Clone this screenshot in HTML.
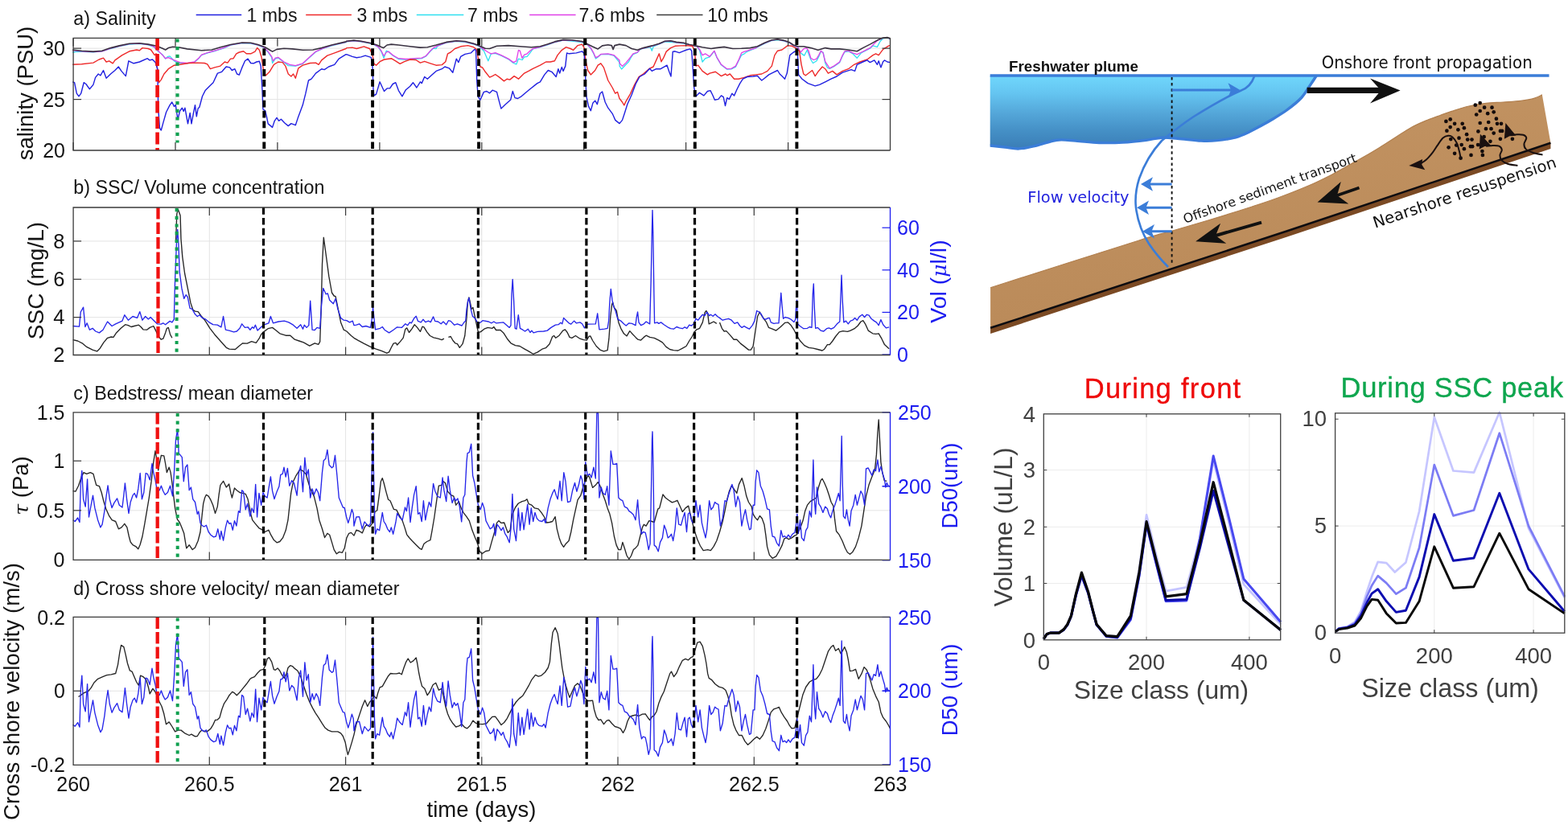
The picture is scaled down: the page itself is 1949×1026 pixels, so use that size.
<!DOCTYPE html>
<html lang="en"><head><meta charset="utf-8"><title>Figure</title>
<style>
html,body{margin:0;padding:0;background:#fff;}
svg{display:block;}
</style></head><body>
<svg width="1949" height="1026" viewBox="0 0 1949 1026" font-family='"Liberation Sans", sans-serif'>
<rect width="1949" height="1026" fill="#ffffff"/>
<rect x="91.1" y="47.4" width="1015.4" height="139.6" fill="#fff" stroke="none"/>
<line x1="218.0" y1="47.4" x2="218.0" y2="187.0" stroke="#e4e4e4" stroke-width="1"/>
<line x1="344.9" y1="47.4" x2="344.9" y2="187.0" stroke="#e4e4e4" stroke-width="1"/>
<line x1="471.9" y1="47.4" x2="471.9" y2="187.0" stroke="#e4e4e4" stroke-width="1"/>
<line x1="598.8" y1="47.4" x2="598.8" y2="187.0" stroke="#e4e4e4" stroke-width="1"/>
<line x1="725.7" y1="47.4" x2="725.7" y2="187.0" stroke="#e4e4e4" stroke-width="1"/>
<line x1="852.6" y1="47.4" x2="852.6" y2="187.0" stroke="#e4e4e4" stroke-width="1"/>
<line x1="979.6" y1="47.4" x2="979.6" y2="187.0" stroke="#e4e4e4" stroke-width="1"/>
<line x1="91.1" y1="123.6" x2="1106.5" y2="123.6" stroke="#e4e4e4" stroke-width="1"/>
<line x1="91.1" y1="60.1" x2="1106.5" y2="60.1" stroke="#e4e4e4" stroke-width="1"/>
<polyline points="90.2,65.0 96.2,64.1 115.9,64.8 126.7,63.9 137.5,60.5 148.2,57.7 160.8,55.0 173.4,54.4 184.2,55.9 191.3,58.4 196.7,64.1 202.1,68.1 205.7,73.1 208.4,70.4 211.1,69.9 216.5,75.8 221.9,78.5 232.6,78.8 241.6,77.4 247.0,72.7 250.6,68.4 259.6,65.4 268.6,63.0 277.5,60.2 281.1,58.7 286.5,56.2 300.9,53.7 311.7,54.1 320.6,56.2 327.8,59.1 333.2,64.8 337.7,71.3 338.6,78.5 342.2,73.1 345.8,72.0 353.0,77.6 358.3,81.7 367.3,82.1 376.3,79.4 385.3,70.9 392.5,64.5 401.4,60.5 412.2,56.8 430.0,52.6 430.8,51.9 439.8,50.8 448.7,51.9 463.1,54.6 470.3,58.7 473.9,64.1 477.1,72.2 480.2,63.2 482.9,64.5 488.2,69.0 495.4,73.5 504.4,74.0 515.2,73.3 524.2,72.7 529.5,69.9 534.9,63.8 538.5,60.2 542.1,60.5 543.9,57.3 554.7,53.2 567.3,51.4 578.0,52.3 588.8,55.0 595.1,57.3 601.4,63.2 606.8,75.8 610.4,66.8 615.7,66.3 622.9,69.1 631.9,73.6 638.2,78.5 641.8,79.9 644.5,73.1 649.0,74.5 651.7,70.9 655.2,70.4 658.8,65.9 662.4,60.9 671.4,58.7 680.4,55.9 689.4,52.6 700.1,50.1 710.9,51.2 723.5,52.6 728.9,54.6 734.3,60.2 737.9,66.8 740.5,73.1 743.2,70.9 746.8,67.7 755.8,67.4 763.0,69.1 770.0,77.6 770.1,82.1 772.6,86.0 778.0,80.3 781.5,76.7 784.2,71.7 786.9,67.7 792.3,65.4 795.9,61.2 799.5,60.3 808.5,58.7 810.3,63.2 812.1,57.8 819.3,55.0 826.4,51.9 833.6,52.4 840.8,53.2 849.8,54.1 857.0,56.2 866.0,57.7 869.5,62.3 873.1,77.0 876.7,72.7 882.1,70.9 885.7,66.3 887.9,63.8 891.1,71.7 896.5,80.8 903.7,86.2 909.1,85.8 914.4,83.2 918.0,75.8 921.6,68.6 925.2,66.8 928.8,64.1 934.2,61.8 939.6,60.0 941.4,58.6 950.4,54.1 959.3,50.5 966.5,49.6 973.7,50.8 980.9,53.2 986.3,56.8 991.7,59.1 995.2,65.9 999.7,69.1 1003.3,62.3 1007.8,74.0 1010.5,78.5 1015.0,75.8 1017.7,70.4 1020.4,64.1 1023.1,65.0 1025.8,78.5 1028.5,84.2 1031.2,85.3 1036.6,82.6 1043.7,77.6 1047.3,69.5 1050.0,64.5 1054.5,63.8 1059.9,66.8 1065.3,72.2 1070.7,65.6 1076.1,62.9 1081.4,60.2 1085.0,56.9 1090.4,58.4 1094.0,51.5 1097.6,47.8 1103.0,47.2 1106.6,48.7" fill="none" stroke="#30e0f0" stroke-width="1.3" stroke-linejoin="round" />
<polyline points="90.2,62.7 101.5,63.8 115.9,64.7 126.7,63.8 137.5,60.2 148.2,57.3 160.8,54.6 173.4,54.1 184.2,55.5 191.3,57.8 196.7,63.2 202.1,68.6 205.7,72.7 209.3,71.7 216.5,74.9 223.7,77.6 232.6,78.5 241.6,77.0 247.0,72.2 250.6,68.1 259.6,65.0 268.6,62.7 277.5,59.6 286.5,55.9 300.9,53.3 311.7,53.7 320.6,55.9 327.8,58.7 333.2,64.1 337.7,70.4 339.5,75.8 342.2,72.2 345.8,71.3 353.0,77.0 360.1,80.3 367.3,81.7 376.3,78.8 385.3,70.4 392.5,64.1 401.4,60.2 412.2,56.4 430.0,52.3 430.8,51.5 439.8,50.5 448.7,51.5 463.1,54.2 470.3,58.4 473.9,63.2 477.1,69.5 480.2,65.0 482.9,64.1 488.2,68.6 495.4,72.7 504.4,73.5 515.2,72.7 524.2,72.2 529.5,69.5 534.9,63.2 538.5,59.6 543.9,56.9 554.7,52.8 567.3,51.0 578.0,51.9 588.8,54.6 595.1,56.9 601.4,61.4 606.8,65.0 610.4,66.8 615.7,65.6 622.9,68.6 631.9,73.1 638.2,77.6 641.8,75.8 644.5,62.3 646.3,63.2 649.0,72.2 651.7,68.1 655.2,66.8 658.8,63.2 662.4,60.5 671.4,58.4 680.4,55.5 689.4,52.3 700.1,49.8 710.9,50.1 723.5,51.9 728.9,54.2 734.3,59.6 737.9,65.9 740.5,71.7 743.2,70.4 746.8,67.4 755.8,66.8 763.0,68.6 770.0,74.9 770.1,78.5 773.5,82.4 778.0,78.1 781.5,74.0 784.2,70.4 786.9,66.8 792.3,65.0 795.9,60.9 799.5,60.0 810.3,57.3 819.3,54.6 826.4,51.5 833.6,51.0 840.8,52.8 849.8,53.7 857.0,55.9 866.0,57.3 869.5,61.4 873.1,68.6 876.7,66.8 882.1,70.4 885.7,65.9 887.9,63.2 891.1,71.3 896.5,80.3 903.7,85.7 909.1,85.3 914.4,82.1 918.0,74.9 921.6,65.9 925.2,64.1 928.8,63.2 934.2,61.4 939.6,59.6 941.4,58.2 950.4,53.7 959.3,50.1 966.5,49.2 973.7,50.5 980.9,52.8 986.3,56.4 991.7,58.7 995.2,65.0 998.8,60.9 1002.4,59.6 1005.1,63.2 1007.8,72.2 1011.4,74.5 1015.0,73.1 1017.7,68.6 1020.4,63.2 1023.1,65.9 1025.8,76.7 1031.2,84.8 1036.6,82.1 1043.7,77.0 1047.3,68.6 1050.0,63.8 1054.5,63.2 1059.9,65.9 1065.3,67.7 1070.7,65.0 1076.1,62.3 1081.4,59.6 1085.0,56.0 1090.4,50.5 1097.6,47.4 1103.0,46.9 1106.6,48.3" fill="none" stroke="#e040e8" stroke-width="1.3" stroke-linejoin="round" />
<polyline points="90.2,62.0 101.5,63.2 115.9,64.1 126.7,63.2 137.5,59.6 148.2,56.9 160.8,54.2 173.4,53.7 184.2,55.1 194.9,57.3 202.1,60.2 205.7,62.0 209.3,59.6 214.7,58.2 221.9,58.7 232.6,60.9 250.6,62.7 263.2,62.0 273.9,58.7 286.5,55.5 300.9,53.0 311.7,53.3 320.6,55.5 329.6,58.7 335.0,62.0 338.6,64.1 344.0,61.4 353.0,60.2 363.7,60.9 376.3,62.3 388.9,62.0 399.7,59.6 412.2,56.0 430.0,51.9 430.8,51.2 439.8,50.1 448.7,51.2 461.3,53.7 468.5,56.0 473.9,58.4 476.6,59.6 481.1,56.0 486.4,55.1 495.4,56.0 509.8,57.8 522.4,59.1 531.3,58.7 542.1,56.0 554.7,52.4 567.3,50.7 578.0,51.5 588.8,54.2 596.0,56.9 603.2,60.2 608.6,60.5 617.5,57.3 631.9,56.6 646.3,57.8 660.6,58.7 671.4,57.8 680.4,55.1 689.4,51.9 700.1,49.4 710.9,49.8 723.5,51.5 728.9,54.2 736.1,57.8 743.2,60.9 748.6,56.9 755.8,55.7 760.3,56.6 762.1,61.4 763.9,56.6 770.0,55.1 778.0,56.6 785.1,60.5 792.3,62.3 799.5,59.6 810.3,56.9 819.3,54.2 826.4,51.2 833.6,50.7 840.8,52.4 849.8,53.3 857.0,55.5 864.2,56.9 873.1,58.7 883.9,60.5 889.3,59.6 900.1,58.4 910.8,60.5 921.6,60.2 932.4,59.6 941.4,57.8 950.4,53.3 959.3,49.8 966.5,48.9 973.7,50.1 980.9,52.4 986.3,56.0 991.7,57.8 998.8,57.8 1007.8,59.6 1016.8,62.3 1025.8,59.6 1033.0,60.9 1043.7,60.9 1054.5,62.0 1065.3,63.8 1072.5,59.6 1081.4,55.1 1090.4,50.1 1097.6,47.1 1103.0,46.5 1106.6,48.0" fill="none" stroke="#3a3242" stroke-width="1.6" stroke-linejoin="round" />
<polyline points="90.2,80.3 101.5,79.7 115.9,78.1 123.1,74.0 128.5,72.2 132.1,77.0 135.7,75.8 140.2,78.8 142.9,74.9 151.8,68.6 160.8,63.8 169.8,62.0 173.4,62.7 177.0,59.6 184.2,60.5 187.7,62.0 192.2,68.6 194.0,66.8 195.8,89.3 197.6,102.7 200.3,99.1 203.9,92.0 209.3,85.7 216.5,81.2 223.7,80.3 234.4,78.5 245.2,78.1 254.2,78.5 257.8,79.9 261.4,85.7 266.8,83.9 273.9,82.1 279.3,77.0 282.9,78.1 286.5,73.1 290.1,72.7 293.7,66.8 297.3,65.0 302.7,63.8 306.3,66.8 311.7,66.8 317.0,64.1 319.7,59.6 322.4,62.3 325.1,71.3 327.8,89.3 330.5,93.8 335.0,89.3 340.4,80.3 345.8,77.0 351.2,77.6 354.8,82.1 358.3,92.0 361.9,95.0 364.6,92.0 367.3,97.3 370.9,84.8 376.3,81.2 385.3,78.5 392.5,78.1 396.1,80.3 399.7,74.9 406.8,69.1 415.8,65.9 430.0,60.5 430.8,59.6 438.0,59.1 443.3,60.5 452.3,57.8 459.5,60.5 463.1,68.6 464.9,79.4 467.6,81.2 472.1,76.7 477.5,74.0 486.4,72.7 491.8,75.8 497.2,79.4 502.6,76.7 509.8,74.0 517.0,74.5 522.4,78.1 527.7,76.3 534.9,78.8 542.1,81.2 549.3,80.6 553.8,76.7 556.5,66.8 560.1,65.0 565.5,60.5 572.6,57.8 581.6,56.6 588.8,58.7 592.4,61.4 594.2,71.3 596.9,83.0 599.6,83.9 603.2,89.3 608.6,96.1 612.1,94.6 615.7,92.5 621.1,96.4 626.5,100.9 630.1,98.2 633.7,99.1 639.1,94.6 644.5,98.2 651.7,91.1 657.0,88.4 662.4,85.3 671.4,81.2 678.6,77.0 684.0,77.0 689.4,75.8 693.0,68.6 698.3,62.3 703.7,58.7 709.1,60.5 712.7,62.3 718.1,56.6 723.5,55.1 726.2,59.6 728.0,75.8 730.7,87.5 734.3,92.9 739.7,87.5 743.2,81.2 746.8,78.8 750.4,83.9 755.8,100.0 761.2,109.0 764.8,116.2 767.5,114.4 770.0,122.5 773.5,127.0 775.8,130.9 778.0,126.1 783.3,117.1 788.7,105.4 794.1,95.5 799.5,92.0 806.7,85.7 812.1,83.0 815.7,74.9 819.3,66.8 822.0,76.7 824.6,72.2 828.2,64.1 833.6,59.6 839.0,57.3 846.2,56.9 853.4,56.6 860.6,57.3 863.3,62.3 865.1,82.1 867.7,81.2 873.1,88.4 879.4,92.9 882.1,91.1 889.3,89.3 896.5,94.6 901.9,92.0 903.7,93.8 907.3,92.0 912.6,98.2 918.0,98.2 925.2,96.4 932.4,93.8 939.6,92.9 946.8,92.0 953.9,88.4 959.3,82.1 962.9,68.6 966.5,63.2 971.9,62.0 979.1,56.6 984.5,57.3 989.0,59.6 991.7,62.3 993.5,63.2 996.1,80.3 998.8,92.0 1001.5,93.8 1006.0,90.2 1009.6,87.5 1013.2,94.6 1016.8,89.3 1022.2,83.0 1025.8,85.7 1029.4,91.1 1034.8,88.4 1040.1,92.9 1047.3,88.4 1054.5,85.7 1061.7,80.3 1068.9,77.0 1077.9,74.0 1085.0,68.6 1088.6,66.8 1092.2,68.6 1097.6,61.4 1104.8,56.9 1106.6,56.6" fill="none" stroke="#ee2a2a" stroke-width="1.4" stroke-linejoin="round" />
<polyline points="90.2,101.8 92.6,102.7 95.3,116.2 98.0,119.8 100.7,116.2 104.2,102.7 106.9,104.5 111.4,110.8 115.9,105.4 118.6,96.4 122.2,92.0 124.9,93.8 128.5,87.5 132.1,97.3 137.5,92.0 142.9,87.5 147.3,83.0 150.9,88.4 156.3,94.6 159.9,75.8 166.2,78.8 173.4,77.0 183.3,72.7 186.0,74.9 189.5,74.0 193.1,77.6 195.8,85.7 196.7,134.2 198.5,159.3 200.3,162.0 203.0,152.1 206.6,139.5 211.1,130.6 213.8,127.0 216.5,132.4 218.3,130.6 221.0,148.5 223.7,137.7 226.4,134.2 228.2,138.6 229.9,134.2 233.5,153.9 236.2,140.4 238.0,153.9 240.7,139.5 242.5,130.6 244.3,144.9 246.1,135.1 247.9,133.3 251.5,119.8 255.1,112.6 259.6,108.1 265.0,102.7 270.4,91.1 275.7,89.3 281.1,83.0 285.6,83.9 288.3,87.5 291.9,85.7 294.6,92.0 297.3,93.2 300.9,83.9 304.5,75.8 308.1,73.1 311.7,78.5 315.2,78.8 318.8,77.0 322.4,76.3 324.2,82.1 326.0,112.6 326.9,136.0 329.6,137.7 331.4,144.9 333.2,153.9 338.6,158.4 341.3,150.3 344.0,146.4 346.7,150.3 349.4,148.2 353.9,153.0 358.3,156.6 361.9,153.6 367.3,155.7 370.9,144.9 376.3,130.6 379.9,116.2 383.5,100.0 387.1,98.2 392.5,91.1 399.7,85.7 403.2,86.6 408.6,83.0 415.8,80.3 421.2,73.1 430.0,67.7 430.8,67.7 438.0,70.4 443.3,71.7 448.7,70.9 454.1,69.1 461.3,71.3 463.1,83.9 464.0,110.8 464.9,118.9 467.6,117.1 472.1,101.8 477.5,113.5 481.1,109.9 484.6,109.9 488.2,104.5 491.8,102.7 495.4,112.6 499.9,119.8 504.4,111.7 509.8,107.2 513.4,102.7 517.9,109.0 522.4,101.8 524.2,103.6 527.7,95.5 531.3,98.2 536.7,93.2 542.1,88.4 549.3,85.7 552.9,83.0 558.3,84.8 562.8,90.2 567.3,73.1 569.9,77.6 572.6,70.4 578.0,67.4 585.2,65.9 589.7,61.4 591.5,62.3 592.8,101.8 594.2,119.8 596.9,124.3 601.4,114.4 605.0,113.5 608.6,115.8 612.1,112.2 617.5,114.4 620.2,125.2 622.9,135.1 628.3,129.7 634.6,124.3 637.3,113.5 640.0,121.6 643.6,122.5 648.1,119.8 657.0,112.2 667.8,103.6 671.4,101.8 676.8,92.9 681.3,87.5 685.8,89.3 691.2,95.5 693.9,85.7 695.7,91.1 698.3,83.5 700.1,88.4 702.8,82.1 704.6,65.9 707.3,66.8 716.3,65.9 723.5,63.8 726.2,66.8 727.4,89.3 728.9,119.8 731.6,132.4 734.3,137.7 737.0,127.9 739.7,125.2 742.3,129.7 745.9,116.2 748.6,114.0 752.2,127.0 755.8,134.2 761.2,141.3 764.8,149.4 770.0,153.6 773.5,149.4 776.2,141.3 779.8,129.7 785.1,118.0 790.5,103.6 795.0,95.5 801.3,92.0 807.6,85.3 810.3,88.4 815.7,85.7 821.1,85.7 829.1,81.2 831.8,89.3 834.0,95.0 836.3,64.1 839.0,63.8 844.4,65.6 848.0,64.1 853.4,62.0 857.9,60.9 859.7,63.2 860.9,80.3 862.7,109.0 865.1,119.8 869.5,115.3 874.9,118.9 879.4,113.5 883.0,112.6 885.7,118.0 888.4,124.3 892.9,123.4 896.5,118.9 899.2,120.7 901.5,131.5 903.7,121.6 906.4,123.4 909.9,116.2 912.6,118.9 916.2,110.8 919.8,103.6 923.4,98.2 928.8,95.5 936.0,95.0 941.4,94.3 944.1,97.3 946.8,100.0 950.4,97.3 955.7,92.9 961.1,90.2 966.5,87.5 969.2,92.0 971.9,94.6 975.5,98.2 978.2,91.1 981.8,68.6 986.3,65.0 989.9,63.2 991.3,65.0 992.6,92.9 997.0,98.2 1004.2,103.6 1013.2,106.9 1018.6,105.4 1025.8,101.8 1033.0,98.2 1040.1,95.0 1047.3,90.2 1052.7,88.4 1058.1,86.6 1062.6,88.4 1065.3,80.3 1072.5,77.0 1077.9,74.9 1081.4,77.6 1086.8,74.9 1090.4,80.3 1092.2,75.8 1094.9,83.9 1097.6,76.7 1099.4,74.9 1103.0,77.0 1106.6,77.6" fill="none" stroke="#2020e0" stroke-width="1.4" stroke-linejoin="round" />
<line x1="91.1" y1="187.0" x2="91.1" y2="177.0" stroke="#3a3a3a" stroke-width="1.2"/>
<line x1="91.1" y1="47.4" x2="91.1" y2="57.4" stroke="#3a3a3a" stroke-width="1.2"/>
<line x1="218.0" y1="187.0" x2="218.0" y2="177.0" stroke="#3a3a3a" stroke-width="1.2"/>
<line x1="218.0" y1="47.4" x2="218.0" y2="57.4" stroke="#3a3a3a" stroke-width="1.2"/>
<line x1="344.9" y1="187.0" x2="344.9" y2="177.0" stroke="#3a3a3a" stroke-width="1.2"/>
<line x1="344.9" y1="47.4" x2="344.9" y2="57.4" stroke="#3a3a3a" stroke-width="1.2"/>
<line x1="471.9" y1="187.0" x2="471.9" y2="177.0" stroke="#3a3a3a" stroke-width="1.2"/>
<line x1="471.9" y1="47.4" x2="471.9" y2="57.4" stroke="#3a3a3a" stroke-width="1.2"/>
<line x1="598.8" y1="187.0" x2="598.8" y2="177.0" stroke="#3a3a3a" stroke-width="1.2"/>
<line x1="598.8" y1="47.4" x2="598.8" y2="57.4" stroke="#3a3a3a" stroke-width="1.2"/>
<line x1="725.7" y1="187.0" x2="725.7" y2="177.0" stroke="#3a3a3a" stroke-width="1.2"/>
<line x1="725.7" y1="47.4" x2="725.7" y2="57.4" stroke="#3a3a3a" stroke-width="1.2"/>
<line x1="852.6" y1="187.0" x2="852.6" y2="177.0" stroke="#3a3a3a" stroke-width="1.2"/>
<line x1="852.6" y1="47.4" x2="852.6" y2="57.4" stroke="#3a3a3a" stroke-width="1.2"/>
<line x1="979.6" y1="187.0" x2="979.6" y2="177.0" stroke="#3a3a3a" stroke-width="1.2"/>
<line x1="979.6" y1="47.4" x2="979.6" y2="57.4" stroke="#3a3a3a" stroke-width="1.2"/>
<line x1="91.1" y1="123.6" x2="101.1" y2="123.6" stroke="#3a3a3a" stroke-width="1.2"/>
<line x1="91.1" y1="60.1" x2="101.1" y2="60.1" stroke="#3a3a3a" stroke-width="1.2"/>
<line x1="1106.5" y1="123.6" x2="1096.5" y2="123.6" stroke="#3a3a3a" stroke-width="1.2"/>
<line x1="1106.5" y1="60.1" x2="1096.5" y2="60.1" stroke="#3a3a3a" stroke-width="1.2"/>
<line x1="195.6" y1="47.4" x2="195.6" y2="187.0" stroke="#f01010" stroke-width="4.6" stroke-dasharray="15 4.5"/>
<line x1="220.5" y1="48.4" x2="220.5" y2="177.5" stroke="#10a050" stroke-width="4.2" stroke-dasharray="4.2 5.5"/>
<line x1="328.3" y1="47.4" x2="328.3" y2="187.0" stroke="#000" stroke-width="3.9" stroke-dasharray="8.7 4.2"/>
<line x1="463.1" y1="47.4" x2="463.1" y2="187.0" stroke="#000" stroke-width="3.9" stroke-dasharray="8.7 4.2"/>
<line x1="595.1" y1="47.4" x2="595.1" y2="187.0" stroke="#000" stroke-width="3.9" stroke-dasharray="8.7 4.2"/>
<line x1="727.4" y1="47.4" x2="727.4" y2="187.0" stroke="#000" stroke-width="3.9" stroke-dasharray="8.7 4.2"/>
<line x1="863.8" y1="47.4" x2="863.8" y2="187.0" stroke="#000" stroke-width="3.9" stroke-dasharray="8.7 4.2"/>
<line x1="990.4" y1="47.4" x2="990.4" y2="187.0" stroke="#000" stroke-width="3.9" stroke-dasharray="8.7 4.2"/>
<path d="M1106.5,47.4 H91.1 V187.0 H1106.5" fill="none" stroke="#3a3a3a" stroke-width="1.3"/>
<line x1="1106.5" y1="47.4" x2="1106.5" y2="187.0" stroke="#3a3a3a" stroke-width="1.3"/>
<text x="91.3" y="30.8" font-size="23.3" fill="#141414" text-anchor="start" font-family='"Liberation Sans", sans-serif' font-weight="normal" >a) Salinity</text>
<text x="81" y="196.0" font-size="25" fill="#141414" text-anchor="end" font-family='"Liberation Sans", sans-serif' font-weight="normal" >20</text>
<text x="81" y="132.55" font-size="25" fill="#141414" text-anchor="end" font-family='"Liberation Sans", sans-serif' font-weight="normal" >25</text>
<text x="81" y="69.10000000000001" font-size="25" fill="#141414" text-anchor="end" font-family='"Liberation Sans", sans-serif' font-weight="normal" >30</text>
<text transform="translate(41,116) rotate(-90)" font-size="27.5" fill="#141414" text-anchor="middle" font-family='"Liberation Sans", sans-serif'>salinity (PSU)</text>
<line x1="243.7" y1="18.5" x2="300.2" y2="18.5" stroke="#2020e0" stroke-width="1.3"/>
<text x="306.6" y="26.8" font-size="23.1" fill="#141414" text-anchor="start" font-family='"Liberation Sans", sans-serif' font-weight="normal" >1 mbs</text>
<line x1="380.2" y1="18.5" x2="436.9" y2="18.5" stroke="#ee2a2a" stroke-width="1.3"/>
<text x="443.6" y="26.8" font-size="23.1" fill="#141414" text-anchor="start" font-family='"Liberation Sans", sans-serif' font-weight="normal" >3 mbs</text>
<line x1="517.8" y1="18.5" x2="576.3" y2="18.5" stroke="#30e0f0" stroke-width="1.3"/>
<text x="581.0" y="26.8" font-size="23.1" fill="#141414" text-anchor="start" font-family='"Liberation Sans", sans-serif' font-weight="normal" >7 mbs</text>
<line x1="658.2" y1="18.5" x2="715.6" y2="18.5" stroke="#e040e8" stroke-width="1.3"/>
<text x="719.4" y="26.8" font-size="23.1" fill="#141414" text-anchor="start" font-family='"Liberation Sans", sans-serif' font-weight="normal" >7.6 mbs</text>
<line x1="816.2" y1="18.5" x2="873.5" y2="18.5" stroke="#3c3c3c" stroke-width="1.3"/>
<text x="879.2" y="26.8" font-size="23.1" fill="#141414" text-anchor="start" font-family='"Liberation Sans", sans-serif' font-weight="normal" >10 mbs</text>
<rect x="91.1" y="258.0" width="1015.4" height="183.5" fill="#fff" stroke="none"/>
<line x1="260.3" y1="258.0" x2="260.3" y2="441.5" stroke="#e4e4e4" stroke-width="1"/>
<line x1="429.6" y1="258.0" x2="429.6" y2="441.5" stroke="#e4e4e4" stroke-width="1"/>
<line x1="598.8" y1="258.0" x2="598.8" y2="441.5" stroke="#e4e4e4" stroke-width="1"/>
<line x1="768.0" y1="258.0" x2="768.0" y2="441.5" stroke="#e4e4e4" stroke-width="1"/>
<line x1="937.3" y1="258.0" x2="937.3" y2="441.5" stroke="#e4e4e4" stroke-width="1"/>
<line x1="91.1" y1="394.6" x2="1106.5" y2="394.6" stroke="#e4e4e4" stroke-width="1"/>
<line x1="91.1" y1="347.3" x2="1106.5" y2="347.3" stroke="#e4e4e4" stroke-width="1"/>
<line x1="91.1" y1="299.9" x2="1106.5" y2="299.9" stroke="#e4e4e4" stroke-width="1"/>
<polyline points="90.7,422.7 96.6,424.0 102.2,426.8 107.7,431.4 115.1,435.1 120.6,436.9 124.3,433.2 128.9,425.9 133.6,420.3 138.2,419.0 141.0,419.4 144.6,413.9 150.2,408.3 155.7,403.7 159.4,404.6 163.1,406.5 166.8,405.5 172.4,404.2 175.1,406.5 177.9,409.8 182.5,410.2 186.2,407.4 190.8,405.5 193.6,411.1 196.4,417.5 200.1,422.2 202.8,421.2 205.6,413.9 207.4,408.3 209.3,407.4 211.5,415.7 213.9,420.3" fill="none" stroke="#262626" stroke-width="1.35" stroke-linejoin="round" />
<polyline points="218.5,301.2 219.8,266.1 221.3,260.2 224.1,267.9 225.0,297.5 226.8,319.6 229.6,340.0 233.3,358.4 237.0,376.9 239.8,385.2 242.5,387.1 246.2,387.6 249.9,392.6 254.6,398.2 261.0,408.3 266.6,415.7 273.9,424.0 281.3,432.3 285.0,434.2 292.4,434.5 297.0,430.5 301.7,426.8 307.2,427.1 312.7,424.6 318.3,426.4 322.0,421.2 324.7,415.7 327.5,412.9 333.1,408.7 338.6,407.4 342.3,410.2 347.8,414.8 355.2,417.2 360.8,417.2 366.3,422.2 371.8,424.0 377.4,425.9 384.8,430.1 391.2,426.8 395.9,428.3 397.7,424.9 399.2,384.3 400.5,328.9 402.3,295.3 405.1,316.0 408.8,343.7 412.5,364.0 415.2,368.0 417.1,368.6 419.9,382.4 423.6,400.9 427.3,410.2 430.9,412.0 436.5,417.5 440.0,420.3 444.8,423.1 452.2,427.1 459.6,430.8 466.9,433.8 474.3,436.4 480.8,439.2 483.6,437.9 486.3,432.3 489.1,427.1 491.9,426.4 493.7,429.0 497.4,424.9 501.1,420.3 503.9,409.2 505.7,407.9 508.5,413.5 512.2,408.7 515.3,403.7 518.7,407.4 522.4,412.4 525.1,406.1 527.0,406.8 530.7,412.9 534.4,417.5 539.0,419.8 544.5,421.2 549.1,422.7 551.9,421.2" fill="none" stroke="#262626" stroke-width="1.35" stroke-linejoin="round" />
<polyline points="557.4,419.4 560.2,418.5 563.0,423.5 565.8,426.8 568.5,427.7 571.3,432.3 575.0,427.7 577.8,417.5 580.0,395.4 581.5,375.1 582.9,369.9 584.2,375.1 586.1,384.3 587.9,382.4 589.8,391.7 592.2,402.8 594.4,412.9 597.2,412.9 601.8,409.2 606.4,407.4 611.9,408.3 613.8,406.5 616.6,410.5 622.1,410.5 625.8,413.9 630.4,421.2 635.0,426.8 640.6,429.6 646.1,430.5 651.7,433.8 657.2,436.9 662.7,440.3 668.3,437.9 673.8,434.2 678.4,432.7 683.1,427.7 686.7,418.5 688.6,417.5 690.8,420.3 695.1,417.2 699.7,411.1 702.4,409.8 705.2,413.5 708.0,419.4 710.8,420.3 715.4,417.5 720.9,421.2 725.5,422.7 729.2,423.1 732.0,418.5 733.8,417.9 736.6,423.5 741.2,430.5 745.9,435.1 750.5,436.9 755.1,435.6 756.9,421.2 758.8,393.5 760.6,378.8 761.6,376.0 763.4,382.4 766.2,386.1 768.9,400.9 771.7,408.3 775.4,414.8 779.1,417.9 782.8,411.6 786.5,415.7 790.0,419.4 792.9,422.2 796.6,423.1 800.3,419.4 803.1,417.2 807.7,419.4 813.2,420.3 818.8,423.1 823.4,425.9 828.0,431.4 832.6,434.5 837.3,435.6 842.8,436.0 848.3,433.2 853.0,430.5 856.7,424.0 860.3,418.5 863.1,412.9 865.9,409.8 869.6,408.3 873.3,400.9 876.0,388.9 877.9,386.5 879.7,389.8 881.2,402.8 883.4,401.8 887.1,400.0 890.8,402.4" fill="none" stroke="#262626" stroke-width="1.35" stroke-linejoin="round" />
<polyline points="894.5,400.9 897.3,408.3 900.1,412.0 902.8,411.6 907.4,416.6 912.1,422.2 915.8,422.2 920.4,427.1 925.9,431.4 930.5,435.1 933.3,435.1 936.1,430.5 938.9,412.0 941.6,393.5 944.4,388.0 946.2,391.7 949.9,397.2 952.7,400.9 955.5,407.4 960.1,409.2 964.7,411.1 970.3,406.5 975.8,401.3 979.5,400.9 983.2,404.6 986.9,410.2 990.6,417.5 994.3,423.5 999.8,429.6 1005.3,432.3 1010.9,433.2 1016.4,434.5 1022.0,436.0 1024.7,434.2 1028.4,428.6 1031.2,428.6 1034.9,424.0 1038.6,418.5 1043.2,412.9 1047.8,411.6 1053.4,412.4 1057.1,411.1 1062.6,408.3 1066.3,405.0 1070.0,400.0 1072.8,398.7 1075.5,402.8 1079.2,411.1 1084.8,414.8 1088.5,415.3 1092.2,414.8 1095.9,421.2 1099.5,428.6 1105.1,433.8" fill="none" stroke="#262626" stroke-width="1.35" stroke-linejoin="round" />
<polyline points="90.7,405.5 98.5,406.1 100.3,388.0 103.6,382.1 105.9,406.5 108.1,401.8 111.4,410.2 115.1,408.3 118.8,412.0 123.4,413.9 128.0,410.2 133.6,400.0 139.1,405.5 143.7,402.8 152.0,399.1 154.8,391.7 159.4,398.2 165.0,393.5 170.5,395.4 173.8,387.6 177.0,398.2 180.7,393.5 184.4,396.9 187.1,394.5 190.8,398.2 195.4,402.8 200.1,403.1 202.8,401.8 205.6,403.7 211.1,399.4 213.9,400.9 216.3,397.2 217.6,347.4 219.5,301.2 220.7,285.5 221.9,303.0 223.2,338.1 225.9,358.4 228.7,371.4 231.1,366.7 233.3,369.5 236.1,383.4 238.9,384.3 242.5,390.8 245.3,393.5 248.1,391.7 251.8,395.7 255.5,396.9 260.1,400.9 264.7,403.7 270.3,404.2 274.9,406.8 277.6,393.5 280.4,410.2 285.0,411.1 290.6,412.9 294.3,412.0 298.0,408.3 300.7,402.8 304.4,407.4 308.1,406.8 310.9,410.2 313.7,406.8 315.5,408.3 317.4,404.2 320.1,411.1 323.8,407.4 327.5,404.2 334.0,401.8 336.4,393.5 339.5,401.8 346.0,400.0 353.4,399.1 358.9,400.9 364.5,404.2 369.1,408.3 373.7,403.7 376.5,409.2 378.3,404.2 381.1,407.4 383.8,404.6 385.7,374.1 388.1,410.2 391.2,410.5 394.0,407.4 397.7,408.3 399.5,380.6 401.8,358.4 405.1,365.8 407.3,364.9 409.7,373.2 414.3,377.8 417.1,371.4 419.9,384.3 423.6,395.4 427.3,398.2 430.9,398.7 434.6,400.9 438.3,399.1 440.0,404.6 442.9,404.2 446.6,402.8 450.3,406.5 454.9,405.5 460.5,407.4 462.3,397.2 463.6,382.4 465.1,397.2 466.6,409.8 472.5,408.3 475.3,406.5 478.0,410.2 483.6,413.9 489.1,410.2 493.7,406.8 499.3,407.4 503.9,402.8 506.7,404.6 509.4,400.9 511.3,401.8 515.0,395.4 517.2,393.2 519.6,399.4 523.3,400.9 526.0,397.2 528.8,400.6 532.5,399.1 535.3,400.6 538.6,393.9 540.8,399.4 544.5,400.0 548.2,402.8 551.0,400.0 554.7,403.7 557.4,398.7 560.2,399.4 564.8,404.2 568.5,402.8 574.1,405.0 576.8,400.9 578.7,399.1 580.0,384.3 581.5,375.1 582.9,370.4 585.2,384.3 587.4,393.2 590.7,396.3 593.5,400.9 596.2,401.8 599.9,398.7 607.3,400.0 611.0,401.8 613.8,400.0 616.6,401.8 625.8,400.9 629.5,404.2 633.2,407.4 635.0,404.6 636.0,365.8 637.2,347.4 638.7,375.1 640.2,408.3 642.0,409.2 644.3,391.7 646.5,408.3 649.8,410.2 652.6,412.0 656.3,409.2 659.0,413.5 660.9,411.1 663.1,413.9 668.3,412.4 675.7,412.0 680.3,411.1 684.9,407.4 690.4,404.2 694.1,403.7 696.9,401.3 698.8,402.8 700.6,395.4 703.4,398.2 707.1,401.8 709.8,403.1 713.5,399.1 716.3,401.8 720.9,400.9 723.7,402.8 726.5,407.9 730.2,403.1 740.3,402.8 742.7,389.8 744.9,409.8 751.4,409.2 755.1,408.3 756.6,399.1 757.9,375.1 759.3,359.4 761.0,373.2 762.5,380.6 765.2,387.1 768.0,397.2 771.7,399.1 775.4,402.8 778.2,405.0 781.9,401.8 785.6,402.4 790.0,404.6 791.1,395.4 792.6,388.0 794.0,400.9 796.6,404.6 800.3,402.8 803.1,400.0 807.7,402.8 809.2,347.4 810.5,282.7 811.0,261.5 811.8,291.9 812.9,365.8 813.6,401.8 816.9,400.9 818.8,402.4 821.6,400.9 825.3,403.7 829.9,406.8 833.6,408.7 837.3,409.2 841.0,406.5 844.6,407.9 848.3,408.7 851.1,406.8 853.9,408.3 856.7,404.2 859.4,405.0 862.2,402.8 865.0,396.3 867.7,398.2 870.5,394.5 873.3,391.3 876.0,392.6 878.8,388.0 881.6,392.6 883.4,391.3 886.2,393.2 889.0,390.8 891.7,393.5 894.5,395.4 898.2,398.2 901.9,397.2 905.6,396.3 909.3,398.2 913.0,402.4 916.7,400.9 919.5,405.0 922.2,407.4 925.0,405.5 927.8,407.4 931.5,409.2 935.2,404.6 937.9,399.1 940.7,386.5 943.5,388.0 946.2,390.8 949.0,396.3 951.8,397.2 954.6,395.7 956.4,395.4 958.2,400.9 961.9,402.4 964.7,401.8 968.0,401.8 969.3,384.3 970.8,364.3 972.1,380.6 973.6,396.3 975.8,394.5 979.5,395.4 983.2,397.2 986.9,400.6 988.7,397.2 989.6,380.6 990.6,373.2 991.5,402.8 994.3,405.5 998.9,408.7 1003.5,408.3 1006.3,406.5 1009.0,407.4 1010.3,365.8 1011.3,352.9 1012.4,384.3 1013.7,408.3 1016.4,407.4 1020.1,411.1 1023.8,412.0 1027.5,408.7 1030.3,407.9 1033.1,409.2 1036.7,407.4 1040.4,402.8 1043.8,400.0 1045.1,365.8 1046.0,342.2 1047.3,375.1 1048.8,400.9 1051.5,399.1 1054.3,402.8 1057.1,399.1 1059.8,398.2 1062.6,395.4 1065.4,398.2 1068.1,393.9 1071.8,391.3 1074.6,394.5 1077.4,391.3 1080.2,392.1 1082.9,396.3 1086.6,399.1 1089.4,400.9 1092.2,404.6 1094.9,397.6 1097.7,403.7 1101.4,407.9 1105.1,406.8" fill="none" stroke="#2626ea" stroke-width="1.35" stroke-linejoin="round" />
<line x1="260.3" y1="441.5" x2="260.3" y2="431.5" stroke="#3a3a3a" stroke-width="1.2"/>
<line x1="260.3" y1="258.0" x2="260.3" y2="268.0" stroke="#3a3a3a" stroke-width="1.2"/>
<line x1="429.6" y1="441.5" x2="429.6" y2="431.5" stroke="#3a3a3a" stroke-width="1.2"/>
<line x1="429.6" y1="258.0" x2="429.6" y2="268.0" stroke="#3a3a3a" stroke-width="1.2"/>
<line x1="598.8" y1="441.5" x2="598.8" y2="431.5" stroke="#3a3a3a" stroke-width="1.2"/>
<line x1="598.8" y1="258.0" x2="598.8" y2="268.0" stroke="#3a3a3a" stroke-width="1.2"/>
<line x1="768.0" y1="441.5" x2="768.0" y2="431.5" stroke="#3a3a3a" stroke-width="1.2"/>
<line x1="768.0" y1="258.0" x2="768.0" y2="268.0" stroke="#3a3a3a" stroke-width="1.2"/>
<line x1="937.3" y1="441.5" x2="937.3" y2="431.5" stroke="#3a3a3a" stroke-width="1.2"/>
<line x1="937.3" y1="258.0" x2="937.3" y2="268.0" stroke="#3a3a3a" stroke-width="1.2"/>
<line x1="91.1" y1="394.6" x2="101.1" y2="394.6" stroke="#3a3a3a" stroke-width="1.2"/>
<line x1="91.1" y1="347.3" x2="101.1" y2="347.3" stroke="#3a3a3a" stroke-width="1.2"/>
<line x1="91.1" y1="299.9" x2="101.1" y2="299.9" stroke="#3a3a3a" stroke-width="1.2"/>
<line x1="1106.5" y1="441.0" x2="1096.5" y2="441.0" stroke="#1c1cf0" stroke-width="1.2"/>
<line x1="1106.5" y1="388.4" x2="1096.5" y2="388.4" stroke="#1c1cf0" stroke-width="1.2"/>
<line x1="1106.5" y1="335.8" x2="1096.5" y2="335.8" stroke="#1c1cf0" stroke-width="1.2"/>
<line x1="1106.5" y1="283.2" x2="1096.5" y2="283.2" stroke="#1c1cf0" stroke-width="1.2"/>
<line x1="196.5" y1="258.0" x2="196.5" y2="441.5" stroke="#f01010" stroke-width="4.3" stroke-dasharray="14.5 4"/>
<line x1="219.6" y1="259.0" x2="219.6" y2="441.5" stroke="#10a050" stroke-width="4.0" stroke-dasharray="4.2 5.5"/>
<line x1="327.5" y1="258.0" x2="327.5" y2="441.5" stroke="#000" stroke-width="3.2" stroke-dasharray="8.7 4.2"/>
<line x1="463.2" y1="258.0" x2="463.2" y2="441.5" stroke="#000" stroke-width="3.2" stroke-dasharray="8.7 4.2"/>
<line x1="594.4" y1="258.0" x2="594.4" y2="441.5" stroke="#000" stroke-width="3.2" stroke-dasharray="8.7 4.2"/>
<line x1="728.9" y1="258.0" x2="728.9" y2="441.5" stroke="#000" stroke-width="3.2" stroke-dasharray="8.7 4.2"/>
<line x1="863.5" y1="258.0" x2="863.5" y2="441.5" stroke="#000" stroke-width="3.2" stroke-dasharray="8.7 4.2"/>
<line x1="990.6" y1="258.0" x2="990.6" y2="441.5" stroke="#000" stroke-width="3.2" stroke-dasharray="8.7 4.2"/>
<path d="M1106.5,258.0 H91.1 V441.5 H1106.5" fill="none" stroke="#3a3a3a" stroke-width="1.3"/>
<line x1="1106.5" y1="258.0" x2="1106.5" y2="441.5" stroke="#1c1cf0" stroke-width="1.3"/>
<text x="91.3" y="240.5" font-size="23.3" fill="#141414" text-anchor="start" font-family='"Liberation Sans", sans-serif' font-weight="normal" >b) SSC/ Volume concentration</text>
<text x="80.5" y="450.3" font-size="25.5" fill="#141414" text-anchor="end" font-family='"Liberation Sans", sans-serif' font-weight="normal" >2</text>
<text x="80.5" y="403.44" font-size="25.5" fill="#141414" text-anchor="end" font-family='"Liberation Sans", sans-serif' font-weight="normal" >4</text>
<text x="80.5" y="356.08" font-size="25.5" fill="#141414" text-anchor="end" font-family='"Liberation Sans", sans-serif' font-weight="normal" >6</text>
<text x="80.5" y="308.72" font-size="25.5" fill="#141414" text-anchor="end" font-family='"Liberation Sans", sans-serif' font-weight="normal" >8</text>
<text x="1115" y="450.0" font-size="25" fill="#1c1cf0" text-anchor="start" font-family='"Liberation Sans", sans-serif' font-weight="normal" >0</text>
<text x="1115" y="397.4" font-size="25" fill="#1c1cf0" text-anchor="start" font-family='"Liberation Sans", sans-serif' font-weight="normal" >20</text>
<text x="1115" y="344.8" font-size="25" fill="#1c1cf0" text-anchor="start" font-family='"Liberation Sans", sans-serif' font-weight="normal" >40</text>
<text x="1115" y="292.20000000000005" font-size="25" fill="#1c1cf0" text-anchor="start" font-family='"Liberation Sans", sans-serif' font-weight="normal" >60</text>
<text transform="translate(54,349) rotate(-90)" font-size="28" fill="#141414" text-anchor="middle" font-family='"Liberation Sans", sans-serif'>SSC (mg/L)</text>
<text transform="translate(1175.5,350) rotate(-90)" font-size="28.5" fill="#1c1cf0" text-anchor="middle">Vol (<tspan font-style="italic" font-family='"DejaVu Serif","Liberation Serif",serif' font-size="25">μ</tspan>l/l)</text>
<rect x="91.1" y="512.9" width="1015.4" height="183.5" fill="#fff" stroke="none"/>
<line x1="260.3" y1="512.9" x2="260.3" y2="696.4" stroke="#e4e4e4" stroke-width="1"/>
<line x1="429.6" y1="512.9" x2="429.6" y2="696.4" stroke="#e4e4e4" stroke-width="1"/>
<line x1="598.8" y1="512.9" x2="598.8" y2="696.4" stroke="#e4e4e4" stroke-width="1"/>
<line x1="768.0" y1="512.9" x2="768.0" y2="696.4" stroke="#e4e4e4" stroke-width="1"/>
<line x1="937.3" y1="512.9" x2="937.3" y2="696.4" stroke="#e4e4e4" stroke-width="1"/>
<line x1="91.1" y1="634.8" x2="1106.5" y2="634.8" stroke="#e4e4e4" stroke-width="1"/>
<line x1="91.1" y1="573.2" x2="1106.5" y2="573.2" stroke="#e4e4e4" stroke-width="1"/>
<polyline points="90.7,610.7 93.9,611.2 97.5,604.2 101.2,593.1 104.0,587.6 107.7,589.4 112.3,587.6 116.0,589.4 117.9,596.8 119.7,603.3 123.4,604.6 126.2,612.5 128.9,623.6 131.7,632.8 135.4,641.1 139.1,646.7 143.7,648.5 147.4,657.8 151.1,655.9 154.8,651.3 157.9,655.9 160.3,667.0 162.2,674.0 165.0,677.7 168.7,679.6 171.8,682.7 174.2,677.2 177.0,667.0 179.7,652.2 182.5,635.6 185.3,619.0 188.1,598.7 190.8,574.6 193.0,560.8 194.9,571.0 196.7,584.8 198.2,576.5 200.4,566.3 203.8,566.9 205.6,576.5 207.4,587.6 210.2,581.1 212.1,587.6 213.9,600.5 215.8,617.1 217.6,631.9 220.4,645.8 223.2,649.5 225.9,655.9 228.7,663.3 230.5,674.4 231.8,681.8 235.2,677.7 239.2,683.6 242.5,680.9 246.2,672.5 249.0,661.5 250.9,643.0 252.7,626.4 254.6,619.0 256.4,615.3 259.2,617.1 261.9,621.7 264.7,628.2 267.5,638.4 270.3,630.1 272.1,615.3 273.9,603.3 277.6,598.3 281.3,606.0 284.7,602.0 286.9,613.4 288.4,619.0 291.5,607.0 294.3,609.7 298.0,612.5 301.7,613.4 305.3,614.4 308.1,620.8 310.0,630.1 311.8,639.3 313.7,646.7 317.4,651.3 322.0,656.8 325.7,658.7 329.4,661.5 334.0,659.2 336.7,665.2 340.4,671.6 344.1,674.8 347.8,673.5 351.5,668.9 355.2,659.6 358.0,646.7 359.8,630.1 361.7,613.4 364.5,598.7 368.1,591.3 372.8,583.9 376.5,585.7 380.2,589.4 382.9,598.7 385.7,607.9 390.3,617.1 394.0,631.9 396.8,646.7 400.5,657.8 403.6,668.5 406.9,663.3 409.7,665.2 412.5,674.4 415.2,683.6 418.4,688.8 421.7,686.4 425.4,687.3 428.2,681.8 430.9,668.9 433.7,663.3 436.5,662.4 440.0,666.1 442.9,659.2 446.6,660.5 450.3,662.9 453.1,655.9 455.9,652.2 459.6,655.0 463.2,650.4 466.0,636.5 468.8,634.7 471.6,613.4 473.4,598.7 475.3,594.6 477.1,600.5 479.9,611.6 482.6,621.2 485.0,622.7 487.3,628.2 489.5,633.4 492.8,634.1 496.5,641.1 500.2,647.6 503.0,655.9 505.7,664.8 508.5,668.5 512.2,672.5 516.8,677.2 521.4,681.8 524.2,683.3 527.0,676.2 530.7,673.5 534.9,671.6 537.1,659.6 539.9,643.0 542.7,622.7 545.4,604.2 549.1,603.3 551.0,598.7 553.4,600.5 556.5,611.2 560.2,615.3 563.9,617.1 566.7,628.2 570.4,623.6 573.2,631.9 575.9,637.4 579.6,642.1 583.3,647.6 587.0,659.6 590.7,668.9 593.5,675.3 596.2,685.5 599.0,688.8 603.6,685.5 608.2,684.6 611.0,674.4 614.7,661.5 617.5,650.4 619.9,647.6 623.0,650.4 626.7,650.0 629.5,657.8 631.3,662.4 634.1,659.6 636.9,639.3 640.6,631.0 644.3,626.0 648.9,623.6 652.6,622.7 655.0,620.8 657.2,626.7 660.9,628.2 664.6,631.9 669.2,632.8 672.9,637.4 676.6,643.0 679.4,650.0 683.1,649.5 686.7,648.5 690.1,642.6 692.3,657.8 695.1,668.9 697.8,676.2 700.6,680.3 703.4,676.2 707.1,672.5 709.8,661.5 712.6,646.7 715.4,633.8 718.1,621.7 721.8,616.2 725.5,603.3 728.3,596.8 731.1,591.3 732.9,594.0 736.6,606.4 740.3,603.3 743.1,599.6 745.9,604.2 749.5,615.3 752.3,622.7 755.1,631.9 757.9,639.3 760.6,650.4 763.4,667.0 766.2,678.1 768.9,683.6 771.7,683.6 773.9,674.4 776.3,681.8 779.1,691.0 781.9,695.3 784.6,691.0 787.4,683.6 790.0,681.4 792.9,678.1 795.7,667.0 798.5,655.9 800.3,652.2 803.1,654.1 806.8,647.6 810.5,648.5 813.2,649.5 816.0,639.3 817.9,632.8 819.7,631.9 821.6,624.5 824.0,614.9 827.1,619.0 830.8,621.7 835.4,624.9 839.1,623.6 841.9,622.3 844.6,628.2 848.3,636.5 852.0,631.9 855.7,629.1 857.6,637.4 860.3,648.5 863.1,659.6 866.8,670.7 870.5,679.0 874.2,684.6 879.7,683.6 883.4,684.6 887.1,679.6 890.8,672.5 894.5,661.5 898.2,648.5 901.0,635.6 903.8,620.8 906.5,610.7 909.3,604.2 912.1,607.9 915.8,613.4 918.5,602.4 922.2,594.6 925.0,604.2 927.8,617.1 930.5,624.5 934.2,630.1 936.1,639.3 938.9,643.9 941.6,646.7 944.4,641.5 947.2,644.8 949.9,652.2 951.8,665.2 953.6,679.9 956.4,690.1 960.1,694.3 964.7,691.9 968.4,685.5 972.1,678.1 974.9,669.8 977.6,668.9 980.4,670.7 984.1,668.9 987.8,666.1 990.6,664.8 994.3,657.8 998.0,647.6 1000.7,635.6 1003.5,628.2 1007.2,623.6 1011.8,620.8 1014.6,619.0 1017.4,606.0 1020.1,597.7 1022.0,595.3 1024.7,600.5 1027.5,607.0 1030.3,615.3 1033.1,624.5 1035.8,629.1 1037.7,646.7 1039.5,660.5 1043.2,665.2 1046.9,672.5 1050.6,681.8 1053.4,687.0 1056.5,689.2 1059.8,686.4 1063.5,679.9 1067.2,668.9 1070.9,654.1 1073.7,635.6 1076.5,617.1 1080.2,602.4 1083.8,593.1 1087.5,583.9 1089.4,565.4 1090.9,537.7 1092.2,522.0 1093.5,546.9 1094.9,574.6 1096.8,587.6 1099.2,597.7 1102.3,598.3" fill="none" stroke="#262626" stroke-width="1.35" stroke-linejoin="round" />
<polyline points="90.7,646.7 93.3,648.5 96.6,643.9 99.0,649.5 100.3,602.4 101.8,585.4 103.6,620.8 106.2,630.1 108.6,595.9 110.5,643.0 113.2,628.2 115.5,616.2 117.9,631.9 121.6,646.7 124.9,655.9 127.1,652.2 129.9,635.6 132.3,615.3 134.1,603.8 136.3,620.8 139.1,631.5 141.9,625.4 145.6,619.9 148.3,628.2 152.0,631.0 153.9,615.3 155.4,600.9 157.6,620.8 160.0,638.4 162.2,624.5 165.0,616.2 167.2,613.4 169.6,619.0 171.8,607.9 174.2,588.5 176.4,620.8 178.8,612.5 181.2,588.5 183.4,589.4 186.2,596.8 189.0,576.5 190.8,587.6 193.0,596.8 195.4,610.7 198.2,609.7 200.4,604.2 202.8,610.7 205.2,615.3 208.4,612.5 211.5,604.2 214.5,616.8 216.7,583.9 218.5,546.9 220.7,533.6 222.2,563.6 226.3,568.7 228.3,598.7 230.5,581.1 232.9,578.0 235.2,609.7 237.4,606.0 239.8,620.8 242.5,624.5 245.3,639.3 246.8,636.0 249.0,650.4 250.9,653.2 253.6,655.0 256.4,653.2 259.2,661.5 261.9,665.2 265.6,667.9 268.4,667.0 270.8,657.8 273.4,670.7 274.9,660.5 277.6,672.2 280.4,655.9 282.6,647.1 285.0,651.3 286.9,650.4 289.3,659.2 291.5,647.6 293.9,654.1 296.5,635.6 298.3,637.4 300.7,609.7 302.6,611.6 305.3,633.8 307.6,626.4 310.9,642.1 313.1,631.9 315.5,637.4 317.7,602.4 319.6,643.0 322.0,613.4 324.7,628.2 327.0,612.5 329.4,617.1 332.1,619.0 336.4,592.8 338.6,610.7 341.0,620.5 344.1,611.6 346.9,605.1 348.8,590.3 351.2,589.4 353.0,581.1 355.2,593.1 357.4,582.4 359.8,604.2 362.6,597.7 365.4,600.5 369.1,616.2 371.5,587.6 373.7,579.3 376.5,611.6 378.9,569.1 381.1,591.3 383.3,583.9 385.7,619.0 388.1,607.9 390.3,615.3 393.1,607.9 395.5,612.5 397.7,622.7 400.5,587.6 402.3,572.8 404.7,570.6 406.9,559.5 409.2,578.3 412.5,581.7 414.3,580.2 416.5,566.3 418.9,591.3 421.3,619.0 423.6,624.5 426.3,631.0 428.2,631.5 430.6,643.0 432.8,650.4 435.0,643.0 437.4,633.4 439.3,639.3 440.0,654.1 441.1,649.5 442.9,643.0 446.6,642.6 450.3,657.8 453.1,648.9 457.7,654.4 460.5,651.3 461.8,602.4 462.9,565.4 463.6,537.7 464.4,583.9 465.5,639.3 466.6,664.2 468.8,657.8 471.6,659.6 475.3,637.4 477.1,648.5 479.5,652.2 481.7,657.8 484.5,661.5 486.3,655.9 488.7,664.2 491.9,649.5 493.7,638.4 496.5,643.0 500.2,646.7 503.5,631.0 505.4,635.6 507.6,619.0 510.0,649.5 512.2,631.9 514.6,615.3 517.2,604.6 519.6,639.3 521.8,637.4 524.2,648.5 526.4,622.7 528.8,646.7 531.2,633.8 533.4,624.5 535.8,630.1 538.6,601.4 540.8,610.7 543.6,617.1 547.3,619.0 550.1,594.0 551.9,609.7 554.7,623.6 557.1,592.2 559.3,609.7 562.1,625.4 564.5,619.0 566.7,622.7 568.9,619.9 571.3,630.1 573.7,648.9 575.9,619.0 577.8,615.3 580.0,574.6 581.1,563.6 583.3,562.6 585.7,552.1 587.6,591.3 589.8,600.5 592.2,615.3 594.4,628.2 597.2,633.8 599.6,625.4 601.8,631.9 604.0,647.6 606.4,652.2 609.2,657.8 611.9,655.9 613.8,651.3 615.6,666.1 618.0,652.2 620.8,655.9 623.0,659.6 625.4,655.9 627.6,663.3 630.4,667.9 633.2,674.8 635.0,657.8 636.9,614.4 638.7,657.8 641.5,672.5 644.3,631.9 646.5,659.6 648.9,637.4 651.1,658.7 653.5,643.0 655.7,627.3 658.1,652.2 660.3,631.9 662.7,648.5 665.0,637.4 667.4,644.8 670.1,647.6 673.8,648.5 676.2,645.8 678.1,650.4 681.2,631.9 684.0,620.8 686.7,613.4 689.1,608.8 691.4,616.2 693.2,620.8 696.0,598.3 698.2,622.7 700.8,587.6 703.0,598.7 705.6,624.5 708.9,623.6 711.7,609.7 714.5,600.5 716.9,611.2 719.6,602.0 721.8,591.6 723.7,596.8 725.9,620.8 727.8,574.6 730.2,591.3 732.9,589.4 735.1,594.0 737.9,581.1 740.3,595.0 741.8,513.7 743.5,513.7 744.9,619.0 747.3,606.0 749.5,613.4 752.3,615.3 754.7,604.6 756.9,628.2 759.3,560.8 761.9,577.4 764.3,577.4 766.7,576.5 768.9,619.0 771.7,621.7 773.9,622.7 776.3,630.1 779.7,631.9 781.9,635.6 784.6,637.4 787.4,640.2 790.0,646.7 792.6,621.7 794.8,650.4 797.5,664.2 799.4,661.5 802.2,662.4 804.0,670.7 806.2,683.6 808.1,676.2 809.6,602.4 810.5,546.9 811.0,536.8 812.0,583.9 813.2,678.1 815.5,679.9 818.2,685.8 820.6,674.4 823.4,668.9 825.6,653.2 828.0,659.6 830.2,668.9 832.6,667.0 834.5,664.2 836.7,672.5 839.1,657.8 841.3,631.9 843.7,652.2 846.5,653.2 849.3,643.0 851.1,637.4 853.5,661.5 855.4,639.3 857.2,637.4 859.4,646.7 861.3,650.4 863.1,639.3 865.0,622.7 867.7,643.0 870.1,628.2 872.4,650.4 874.6,659.6 877.0,668.9 878.8,657.8 881.6,622.7 883.8,633.8 886.2,631.0 888.6,624.5 890.8,626.4 893.0,627.3 895.4,654.1 898.2,644.8 901.0,622.7 903.4,623.6 905.6,615.3 907.8,608.8 909.9,602.4 912.1,609.7 914.5,630.1 917.1,617.1 919.5,624.5 921.9,654.1 924.1,643.0 926.5,633.8 928.7,646.7 931.5,658.7 933.3,657.8 936.1,628.2 937.9,628.2 939.2,598.7 940.7,584.8 942.9,587.6 945.3,604.2 948.1,610.7 950.9,620.8 953.6,632.8 956.4,633.8 958.2,654.1 960.1,667.0 962.9,667.9 965.6,675.3 968.4,679.0 970.8,659.6 973.0,667.9 975.4,666.6 977.6,668.9 979.9,665.2 982.3,668.5 985.0,664.2 987.8,662.4 989.6,652.2 990.9,639.3 992.4,663.3 994.6,646.7 996.5,668.9 999.3,672.5 1001.7,659.6 1003.9,655.9 1006.3,635.6 1008.5,643.0 1010.0,602.4 1010.9,571.9 1012.2,620.8 1013.7,639.3 1015.5,606.0 1017.7,626.4 1020.1,630.1 1022.9,637.4 1025.7,630.1 1028.4,632.8 1030.3,639.3 1032.7,643.9 1034.9,635.6 1037.7,628.2 1040.1,620.8 1042.3,613.4 1044.1,622.7 1045.4,574.6 1046.2,542.3 1047.3,602.4 1048.4,642.1 1050.6,644.8 1052.4,633.8 1054.3,646.7 1056.1,654.1 1058.0,635.6 1060.8,628.2 1063.2,615.3 1065.4,628.2 1067.8,619.0 1070.0,610.7 1072.4,615.3 1074.6,628.2 1076.5,583.0 1079.2,582.0 1082.0,587.6 1083.8,591.3 1086.2,583.9 1088.5,585.7 1090.9,571.9 1092.7,586.7 1094.9,580.2 1097.3,589.4 1099.5,596.8 1100.8,606.0 1102.3,600.5 1104.2,604.2" fill="none" stroke="#2626ea" stroke-width="1.35" stroke-linejoin="round" />
<polyline points="1096.8,604.6 1106.0,604.6" fill="none" stroke="#2626ea" stroke-width="1.35" stroke-linejoin="round" />
<line x1="260.3" y1="696.4" x2="260.3" y2="686.4" stroke="#3a3a3a" stroke-width="1.2"/>
<line x1="260.3" y1="512.9" x2="260.3" y2="522.9" stroke="#3a3a3a" stroke-width="1.2"/>
<line x1="429.6" y1="696.4" x2="429.6" y2="686.4" stroke="#3a3a3a" stroke-width="1.2"/>
<line x1="429.6" y1="512.9" x2="429.6" y2="522.9" stroke="#3a3a3a" stroke-width="1.2"/>
<line x1="598.8" y1="696.4" x2="598.8" y2="686.4" stroke="#3a3a3a" stroke-width="1.2"/>
<line x1="598.8" y1="512.9" x2="598.8" y2="522.9" stroke="#3a3a3a" stroke-width="1.2"/>
<line x1="768.0" y1="696.4" x2="768.0" y2="686.4" stroke="#3a3a3a" stroke-width="1.2"/>
<line x1="768.0" y1="512.9" x2="768.0" y2="522.9" stroke="#3a3a3a" stroke-width="1.2"/>
<line x1="937.3" y1="696.4" x2="937.3" y2="686.4" stroke="#3a3a3a" stroke-width="1.2"/>
<line x1="937.3" y1="512.9" x2="937.3" y2="522.9" stroke="#3a3a3a" stroke-width="1.2"/>
<line x1="91.1" y1="634.8" x2="101.1" y2="634.8" stroke="#3a3a3a" stroke-width="1.2"/>
<line x1="91.1" y1="573.2" x2="101.1" y2="573.2" stroke="#3a3a3a" stroke-width="1.2"/>
<line x1="1106.5" y1="696.8" x2="1096.5" y2="696.8" stroke="#1c1cf0" stroke-width="1.2"/>
<line x1="1106.5" y1="604.8" x2="1096.5" y2="604.8" stroke="#1c1cf0" stroke-width="1.2"/>
<line x1="1106.5" y1="512.7" x2="1096.5" y2="512.7" stroke="#1c1cf0" stroke-width="1.2"/>
<line x1="195.7" y1="512.9" x2="195.7" y2="696.4" stroke="#f01010" stroke-width="4.3" stroke-dasharray="14.5 4"/>
<line x1="220.7" y1="513.9" x2="220.7" y2="696.4" stroke="#10a050" stroke-width="4.0" stroke-dasharray="4.2 5.5"/>
<line x1="327.5" y1="512.9" x2="327.5" y2="696.4" stroke="#000" stroke-width="3.2" stroke-dasharray="8.7 4.2"/>
<line x1="463.2" y1="512.9" x2="463.2" y2="696.4" stroke="#000" stroke-width="3.2" stroke-dasharray="8.7 4.2"/>
<line x1="594.4" y1="512.9" x2="594.4" y2="696.4" stroke="#000" stroke-width="3.2" stroke-dasharray="8.7 4.2"/>
<line x1="727.7" y1="512.9" x2="727.7" y2="696.4" stroke="#000" stroke-width="3.2" stroke-dasharray="8.7 4.2"/>
<line x1="862.6" y1="512.9" x2="862.6" y2="696.4" stroke="#000" stroke-width="3.2" stroke-dasharray="8.7 4.2"/>
<line x1="990.6" y1="512.9" x2="990.6" y2="696.4" stroke="#000" stroke-width="3.2" stroke-dasharray="8.7 4.2"/>
<path d="M1106.5,512.9 H91.1 V696.4 H1106.5" fill="none" stroke="#3a3a3a" stroke-width="1.3"/>
<line x1="1106.5" y1="512.9" x2="1106.5" y2="696.4" stroke="#1c1cf0" stroke-width="1.3"/>
<text x="91.3" y="496.5" font-size="23.3" fill="#141414" text-anchor="start" font-family='"Liberation Sans", sans-serif' font-weight="normal" >c) Bedstress/ mean diameter</text>
<text x="80.5" y="705.45" font-size="25" fill="#141414" text-anchor="end" font-family='"Liberation Sans", sans-serif' font-weight="normal" >0</text>
<text x="80.5" y="643.8000000000001" font-size="25" fill="#141414" text-anchor="end" font-family='"Liberation Sans", sans-serif' font-weight="normal" >0.5</text>
<text x="80.5" y="582.1500000000001" font-size="25" fill="#141414" text-anchor="end" font-family='"Liberation Sans", sans-serif' font-weight="normal" >1</text>
<text x="80.5" y="522.3" font-size="25" fill="#141414" text-anchor="end" font-family='"Liberation Sans", sans-serif' font-weight="normal" >1.5</text>
<text x="1116" y="705.8" font-size="25" fill="#1c1cf0" text-anchor="start" font-family='"Liberation Sans", sans-serif' font-weight="normal" >150</text>
<text x="1116" y="613.75" font-size="25" fill="#1c1cf0" text-anchor="start" font-family='"Liberation Sans", sans-serif' font-weight="normal" >200</text>
<text x="1116" y="521.6999999999999" font-size="25" fill="#1c1cf0" text-anchor="start" font-family='"Liberation Sans", sans-serif' font-weight="normal" >250</text>
<text transform="translate(34.5,604) rotate(-90)" font-size="27.5" fill="#141414" text-anchor="middle"><tspan font-style="italic" font-family='"DejaVu Serif","Liberation Serif",serif' font-size="25">τ</tspan> (Pa)</text>
<text transform="translate(1190,604) rotate(-90)" font-size="27.5" fill="#1c1cf0" text-anchor="middle" font-family='"Liberation Sans", sans-serif'>D50(um)</text>
<rect x="91.1" y="767.4" width="1015.4" height="183.89999999999998" fill="#fff" stroke="none"/>
<line x1="260.3" y1="767.4" x2="260.3" y2="951.3" stroke="#e4e4e4" stroke-width="1"/>
<line x1="429.6" y1="767.4" x2="429.6" y2="951.3" stroke="#e4e4e4" stroke-width="1"/>
<line x1="598.8" y1="767.4" x2="598.8" y2="951.3" stroke="#e4e4e4" stroke-width="1"/>
<line x1="768.0" y1="767.4" x2="768.0" y2="951.3" stroke="#e4e4e4" stroke-width="1"/>
<line x1="937.3" y1="767.4" x2="937.3" y2="951.3" stroke="#e4e4e4" stroke-width="1"/>
<line x1="91.1" y1="859.3" x2="1106.5" y2="859.3" stroke="#e4e4e4" stroke-width="1"/>
<polyline points="97.5,866.5 100.3,864.7 104.0,861.9 109.6,859.7 113.2,855.4 116.9,849.0 121.6,844.3 127.1,841.9 132.6,839.7 138.2,838.8 143.7,837.5 146.5,826.8 148.7,812.0 150.6,802.4 153.9,804.6 156.1,813.9 158.5,825.0 161.3,833.8 164.0,835.1 166.8,841.6 169.6,848.0 172.4,852.3 174.6,840.1 177.9,841.6 181.6,845.3 184.4,854.5 186.2,862.8 189.9,856.4 192.7,860.0 195.4,865.6 198.2,873.0 201.0,878.5 203.8,887.8 206.5,900.7 210.2,897.9 213.9,903.5 217.6,909.9 221.3,908.1 225.0,908.1 229.6,911.8 235.2,914.5 237.9,913.2 242.5,915.8 245.3,915.5 248.1,910.8 250.9,908.1 254.6,909.9 257.3,909.9 261.9,906.2 264.7,901.6 267.5,895.5 270.3,895.1 273.0,892.4 275.8,882.2 278.6,874.8 282.3,869.3 285.0,864.7 288.7,860.4 291.5,861.9 294.3,864.7 298.0,861.0 301.7,856.4 306.3,850.8 310.9,844.3 312.7,843.1 316.4,841.6 320.1,837.0 323.8,833.3 327.5,832.3 330.3,826.8 332.1,819.4 334.5,817.6 337.7,823.1 340.4,832.7 342.3,833.3 345.1,830.9 347.8,834.2 350.6,839.7 353.4,843.4 356.1,837.9 358.0,830.5 360.8,827.7 363.5,828.6 366.3,831.4 370.0,834.2 373.7,841.6 377.4,852.7 381.1,863.7 384.8,873.0 388.5,880.4 392.2,886.8 395.9,892.4 400.5,899.8 404.2,905.3 407.9,908.1 412.5,909.9 419.9,909.9 423.6,911.8 426.3,915.5 429.1,922.9 430.9,932.1 432.4,938.6 434.6,932.1 437.4,922.9 440.0,913.6 442.9,900.7 446.6,889.6 450.3,878.5 453.6,870.8 456.8,878.5 459.6,873.0 462.3,870.2 465.1,865.6 467.9,868.9 469.7,861.9 472.1,854.9 475.3,853.6 478.9,847.1 482.6,840.7 485.4,837.5 489.1,837.9 492.8,837.9 496.5,837.0 499.3,838.8 502.0,830.5 504.8,823.1 507.2,819.0 510.3,824.0 514.0,821.6 517.2,817.9 518.7,825.0 520.5,836.0 522.4,845.3 524.6,853.6 527.9,856.4 531.2,864.7 534.4,860.0 538.1,851.7 541.7,849.3 545.4,858.2 549.1,856.4 551.5,867.4 553.8,878.5 556.5,887.8 559.3,894.2 563.0,899.8 566.7,904.0 570.4,902.9 574.1,900.7 577.8,904.7 580.5,905.9 584.2,902.5 587.9,896.1 590.7,898.8 594.4,900.3 599.9,900.7 604.6,899.8 608.2,895.5 611.9,891.4 615.6,891.1 619.3,896.1 623.0,901.6 626.7,898.5 630.4,893.3 634.1,885.9 637.8,878.5 641.5,873.0 645.2,868.9 649.8,865.2 653.5,859.1 657.2,852.7 660.9,845.3 665.5,839.4 669.2,841.2 672.9,840.1 677.5,836.0 681.2,830.5 683.4,823.1 685.3,800.9 687.1,786.2 690.1,780.6 693.2,788.0 695.1,800.9 696.9,815.7 698.8,830.5 701.2,843.4 703.4,852.7 706.1,861.9 708.0,867.4 710.8,861.0 714.5,852.7 718.1,849.9 720.9,852.7 723.7,860.0 726.5,867.4 730.2,871.5 733.8,871.5 736.6,871.1 738.5,882.2 741.2,891.4 744.0,895.5 746.8,894.8 750.5,900.7 754.2,896.1 756.9,895.5 760.6,899.8 764.3,903.5 768.0,904.7 771.3,906.2 774.5,911.4 777.3,906.2 780.0,897.0 782.8,891.4 786.5,890.0 790.0,889.2 793.9,890.5 798.5,888.1 802.2,887.8 805.9,893.3 807.7,895.5 810.5,891.4 813.2,889.6 816.0,885.0 818.8,874.8 821.6,867.4 825.3,860.0 828.9,849.0 832.6,837.9 834.5,835.1 837.6,841.6 841.0,837.0 844.6,828.6 848.3,821.3 852.0,819.4 855.4,820.9 858.5,817.9 861.3,816.6 864.0,808.3 866.8,799.1 870.1,798.2 873.3,803.7 876.0,814.8 877.9,825.0 879.7,837.9 881.2,843.4 884.4,845.3 889.0,850.8 893.6,854.1 898.2,855.4 901.9,858.2 904.7,865.6 907.4,876.7 909.3,889.6 912.1,901.6 914.8,908.1 918.5,914.5 922.2,914.5 925.9,921.9 929.6,926.2 933.3,922.9 937.0,919.2 940.7,916.4 944.4,919.2 948.1,914.5 951.8,906.2 955.5,895.1 958.2,885.9 961.9,881.8 965.6,880.7 968.4,879.4 971.2,885.9 974.9,891.8 978.6,897.0 981.3,902.2 984.1,905.9 987.8,905.3 990.6,893.3 994.3,878.5 998.0,863.7 1001.7,854.5 1006.3,848.0 1010.9,845.3 1014.6,844.3 1018.3,839.7 1022.0,832.3 1025.7,821.3 1029.4,810.2 1033.1,804.6 1035.8,802.4 1038.6,809.3 1042.3,806.5 1045.1,812.9 1046.9,810.2 1049.7,804.6 1052.4,811.1 1054.3,820.3 1056.5,834.6 1059.8,834.2 1063.5,832.3 1067.2,844.3 1070.9,837.9 1074.1,829.6 1077.4,833.3 1081.1,843.4 1084.8,856.4 1088.5,865.6 1092.2,873.0 1094.9,885.9 1097.7,892.4 1101.4,897.0 1104.2,901.6 1106.6,906.2" fill="none" stroke="#262626" stroke-width="1.35" stroke-linejoin="round" />
<polyline points="90.7,901.4 93.3,903.2 96.6,898.6 99.0,904.2 100.3,857.1 101.8,840.1 103.6,875.5 106.2,884.8 108.6,850.6 110.5,897.7 113.2,882.9 115.5,870.9 117.9,886.6 121.6,901.4 124.9,910.6 127.1,906.9 129.9,890.3 132.3,870.0 134.1,858.5 136.3,875.5 139.1,886.2 141.9,880.1 145.6,874.6 148.3,882.9 152.0,885.7 153.9,870.0 155.4,855.6 157.6,875.5 160.0,893.1 162.2,879.2 165.0,870.9 167.2,868.1 169.6,873.7 171.8,862.6 174.2,843.2 176.4,875.5 178.8,867.2 181.2,843.2 183.4,844.1 186.2,851.5 189.0,831.2 190.8,842.3 193.0,851.5 195.4,865.4 198.2,864.4 200.4,858.9 202.8,865.4 205.2,870.0 208.4,867.2 211.5,858.9 214.5,871.5 216.7,838.6 218.5,801.6 220.7,788.3 222.2,818.3 226.3,823.4 228.3,853.4 230.5,835.8 232.9,832.7 235.2,864.4 237.4,860.7 239.8,875.5 242.5,879.2 245.3,894.0 246.8,890.7 249.0,905.1 250.9,907.9 253.6,909.7 256.4,907.9 259.2,916.2 261.9,919.9 265.6,922.6 268.4,921.7 270.8,912.5 273.4,925.4 274.9,915.2 277.6,926.9 280.4,910.6 282.6,901.8 285.0,906.0 286.9,905.1 289.3,913.9 291.5,902.3 293.9,908.8 296.5,890.3 298.3,892.1 300.7,864.4 302.6,866.3 305.3,888.5 307.6,881.1 310.9,896.8 313.1,886.6 315.5,892.1 317.7,857.1 319.6,897.7 322.0,868.1 324.7,882.9 327.0,867.2 329.4,871.8 332.1,873.7 336.4,847.5 338.6,865.4 341.0,875.2 344.1,866.3 346.9,859.8 348.8,845.0 351.2,844.1 353.0,835.8 355.2,847.8 357.4,837.1 359.8,858.9 362.6,852.4 365.4,855.2 369.1,870.9 371.5,842.3 373.7,834.0 376.5,866.3 378.9,823.8 381.1,846.0 383.3,838.6 385.7,873.7 388.1,862.6 390.3,870.0 393.1,862.6 395.5,867.2 397.7,877.4 400.5,842.3 402.3,827.5 404.7,825.3 406.9,814.2 409.2,833.0 412.5,836.4 414.3,834.9 416.5,821.0 418.9,846.0 421.3,873.7 423.6,879.2 426.3,885.7 428.2,886.2 430.6,897.7 432.8,905.1 435.0,897.7 437.4,888.1 439.3,894.0 440.0,908.8 441.1,904.2 442.9,897.7 446.6,897.3 450.3,912.5 453.1,903.6 457.7,909.1 460.5,906.0 461.8,857.1 462.9,820.1 463.6,792.4 464.4,838.6 465.5,894.0 466.6,918.9 468.8,912.5 471.6,914.3 475.3,892.1 477.1,903.2 479.5,906.9 481.7,912.5 484.5,916.2 486.3,910.6 488.7,918.9 491.9,904.2 493.7,893.1 496.5,897.7 500.2,901.4 503.5,885.7 505.4,890.3 507.6,873.7 510.0,904.2 512.2,886.6 514.6,870.0 517.2,859.3 519.6,894.0 521.8,892.1 524.2,903.2 526.4,877.4 528.8,901.4 531.2,888.5 533.4,879.2 535.8,884.8 538.6,856.1 540.8,865.4 543.6,871.8 547.3,873.7 550.1,848.7 551.9,864.4 554.7,878.3 557.1,846.9 559.3,864.4 562.1,880.1 564.5,873.7 566.7,877.4 568.9,874.6 571.3,884.8 573.7,903.6 575.9,873.7 577.8,870.0 580.0,829.3 581.1,818.3 583.3,817.3 585.7,806.8 587.6,846.0 589.8,855.2 592.2,870.0 594.4,882.9 597.2,888.5 599.6,880.1 601.8,886.6 604.0,902.3 606.4,906.9 609.2,912.5 611.9,910.6 613.8,906.0 615.6,920.8 618.0,906.9 620.8,910.6 623.0,914.3 625.4,910.6 627.6,918.0 630.4,922.6 633.2,929.5 635.0,912.5 636.9,869.1 638.7,912.5 641.5,927.2 644.3,886.6 646.5,914.3 648.9,892.1 651.1,913.4 653.5,897.7 655.7,882.0 658.1,906.9 660.3,886.6 662.7,903.2 665.0,892.1 667.4,899.5 670.1,902.3 673.8,903.2 676.2,900.5 678.1,905.1 681.2,886.6 684.0,875.5 686.7,868.1 689.1,863.5 691.4,870.9 693.2,875.5 696.0,853.0 698.2,877.4 700.8,842.3 703.0,853.4 705.6,879.2 708.9,878.3 711.7,864.4 714.5,855.2 716.9,865.9 719.6,856.7 721.8,846.3 723.7,851.5 725.9,875.5 727.8,829.3 730.2,846.0 732.9,844.1 735.1,848.7 737.9,835.8 740.3,849.7 741.8,768.4 743.5,768.4 744.9,873.7 747.3,860.7 749.5,868.1 752.3,870.0 754.7,859.3 756.9,882.9 759.3,815.5 761.9,832.1 764.3,832.1 766.7,831.2 768.9,873.7 771.7,876.4 773.9,877.4 776.3,884.8 779.7,886.6 781.9,890.3 784.6,892.1 787.4,894.9 790.0,901.4 792.6,876.4 794.8,905.1 797.5,918.9 799.4,916.2 802.2,917.1 804.0,925.4 806.2,938.3 808.1,930.9 809.6,857.1 810.5,801.6 811.0,791.5 812.0,838.6 813.2,932.8 815.5,934.6 818.2,940.5 820.6,929.1 823.4,923.6 825.6,907.9 828.0,914.3 830.2,923.6 832.6,921.7 834.5,918.9 836.7,927.2 839.1,912.5 841.3,886.6 843.7,906.9 846.5,907.9 849.3,897.7 851.1,892.1 853.5,916.2 855.4,894.0 857.2,892.1 859.4,901.4 861.3,905.1 863.1,894.0 865.0,877.4 867.7,897.7 870.1,882.9 872.4,905.1 874.6,914.3 877.0,923.6 878.8,912.5 881.6,877.4 883.8,888.5 886.2,885.7 888.6,879.2 890.8,881.1 893.0,882.0 895.4,908.8 898.2,899.5 901.0,877.4 903.4,878.3 905.6,870.0 907.8,863.5 909.9,857.1 912.1,864.4 914.5,884.8 917.1,871.8 919.5,879.2 921.9,908.8 924.1,897.7 926.5,888.5 928.7,901.4 931.5,913.4 933.3,912.5 936.1,882.9 937.9,882.9 939.2,853.4 940.7,839.5 942.9,842.3 945.3,858.9 948.1,865.4 950.9,875.5 953.6,887.5 956.4,888.5 958.2,908.8 960.1,921.7 962.9,922.6 965.6,930.0 968.4,933.7 970.8,914.3 973.0,922.6 975.4,921.3 977.6,923.6 979.9,919.9 982.3,923.2 985.0,918.9 987.8,917.1 989.6,906.9 990.9,894.0 992.4,918.0 994.6,901.4 996.5,923.6 999.3,927.2 1001.7,914.3 1003.9,910.6 1006.3,890.3 1008.5,897.7 1010.0,857.1 1010.9,826.6 1012.2,875.5 1013.7,894.0 1015.5,860.7 1017.7,881.1 1020.1,884.8 1022.9,892.1 1025.7,884.8 1028.4,887.5 1030.3,894.0 1032.7,898.6 1034.9,890.3 1037.7,882.9 1040.1,875.5 1042.3,868.1 1044.1,877.4 1045.4,829.3 1046.2,797.0 1047.3,857.1 1048.4,896.8 1050.6,899.5 1052.4,888.5 1054.3,901.4 1056.1,908.8 1058.0,890.3 1060.8,882.9 1063.2,870.0 1065.4,882.9 1067.8,873.7 1070.0,865.4 1072.4,870.0 1074.6,882.9 1076.5,837.7 1079.2,836.7 1082.0,842.3 1083.8,846.0 1086.2,838.6 1088.5,840.4 1090.9,826.6 1092.7,841.4 1094.9,834.9 1097.3,844.1 1099.5,851.5 1100.8,860.7 1102.3,855.2 1104.2,858.9" fill="none" stroke="#2626ea" stroke-width="1.35" stroke-linejoin="round" />
<polyline points="1096.8,859.3 1106.0,859.3" fill="none" stroke="#2626ea" stroke-width="1.35" stroke-linejoin="round" />
<line x1="260.3" y1="951.3" x2="260.3" y2="941.3" stroke="#3a3a3a" stroke-width="1.2"/>
<line x1="260.3" y1="767.4" x2="260.3" y2="777.4" stroke="#3a3a3a" stroke-width="1.2"/>
<line x1="429.6" y1="951.3" x2="429.6" y2="941.3" stroke="#3a3a3a" stroke-width="1.2"/>
<line x1="429.6" y1="767.4" x2="429.6" y2="777.4" stroke="#3a3a3a" stroke-width="1.2"/>
<line x1="598.8" y1="951.3" x2="598.8" y2="941.3" stroke="#3a3a3a" stroke-width="1.2"/>
<line x1="598.8" y1="767.4" x2="598.8" y2="777.4" stroke="#3a3a3a" stroke-width="1.2"/>
<line x1="768.0" y1="951.3" x2="768.0" y2="941.3" stroke="#3a3a3a" stroke-width="1.2"/>
<line x1="768.0" y1="767.4" x2="768.0" y2="777.4" stroke="#3a3a3a" stroke-width="1.2"/>
<line x1="937.3" y1="951.3" x2="937.3" y2="941.3" stroke="#3a3a3a" stroke-width="1.2"/>
<line x1="937.3" y1="767.4" x2="937.3" y2="777.4" stroke="#3a3a3a" stroke-width="1.2"/>
<line x1="91.1" y1="859.3" x2="101.1" y2="859.3" stroke="#3a3a3a" stroke-width="1.2"/>
<line x1="1106.5" y1="951.0" x2="1096.5" y2="951.0" stroke="#1c1cf0" stroke-width="1.2"/>
<line x1="1106.5" y1="859.2" x2="1096.5" y2="859.2" stroke="#1c1cf0" stroke-width="1.2"/>
<line x1="1106.5" y1="767.5" x2="1096.5" y2="767.5" stroke="#1c1cf0" stroke-width="1.2"/>
<line x1="195.7" y1="767.4" x2="195.7" y2="951.3" stroke="#f01010" stroke-width="4.3" stroke-dasharray="14.5 4"/>
<line x1="220.7" y1="768.4" x2="220.7" y2="951.3" stroke="#10a050" stroke-width="4.0" stroke-dasharray="4.2 5.5"/>
<line x1="328.8" y1="767.4" x2="328.8" y2="951.3" stroke="#000" stroke-width="3.2" stroke-dasharray="8.7 4.2"/>
<line x1="463.2" y1="767.4" x2="463.2" y2="951.3" stroke="#000" stroke-width="3.2" stroke-dasharray="8.7 4.2"/>
<line x1="594.4" y1="767.4" x2="594.4" y2="951.3" stroke="#000" stroke-width="3.2" stroke-dasharray="8.7 4.2"/>
<line x1="729.2" y1="767.4" x2="729.2" y2="951.3" stroke="#000" stroke-width="3.2" stroke-dasharray="8.7 4.2"/>
<line x1="862.6" y1="767.4" x2="862.6" y2="951.3" stroke="#000" stroke-width="3.2" stroke-dasharray="8.7 4.2"/>
<line x1="990.6" y1="767.4" x2="990.6" y2="951.3" stroke="#000" stroke-width="3.2" stroke-dasharray="8.7 4.2"/>
<path d="M1106.5,767.4 H91.1 V951.3 H1106.5" fill="none" stroke="#3a3a3a" stroke-width="1.3"/>
<line x1="1106.5" y1="767.4" x2="1106.5" y2="951.3" stroke="#1c1cf0" stroke-width="1.3"/>
<text x="91.3" y="739.5" font-size="23.3" fill="#141414" text-anchor="start" font-family='"Liberation Sans", sans-serif' font-weight="normal" >d) Cross shore velocity/ mean diameter</text>
<text x="81" y="960.0" font-size="25" fill="#141414" text-anchor="end" font-family='"Liberation Sans", sans-serif' font-weight="normal" >-0.2</text>
<text x="81" y="868.3" font-size="25" fill="#141414" text-anchor="end" font-family='"Liberation Sans", sans-serif' font-weight="normal" >0</text>
<text x="81" y="776.5999999999999" font-size="25" fill="#141414" text-anchor="end" font-family='"Liberation Sans", sans-serif' font-weight="normal" >0.2</text>
<text x="1116" y="960.0" font-size="25" fill="#1c1cf0" text-anchor="start" font-family='"Liberation Sans", sans-serif' font-weight="normal" >150</text>
<text x="1116" y="868.25" font-size="25" fill="#1c1cf0" text-anchor="start" font-family='"Liberation Sans", sans-serif' font-weight="normal" >200</text>
<text x="1116" y="776.5" font-size="25" fill="#1c1cf0" text-anchor="start" font-family='"Liberation Sans", sans-serif' font-weight="normal" >250</text>
<text transform="translate(24,860) rotate(-90)" font-size="27.7" fill="#141414" text-anchor="middle" font-family='"Liberation Sans", sans-serif'>Cross shore velocity (m/s)</text>
<text transform="translate(1190,858) rotate(-90)" font-size="27.5" fill="#1c1cf0" text-anchor="middle" font-family='"Liberation Sans", sans-serif'>D50 (um)</text>
<text x="91.1" y="983.6" font-size="25" fill="#141414" text-anchor="middle" font-family='"Liberation Sans", sans-serif' font-weight="normal" >260</text>
<text x="260.3333333333333" y="983.6" font-size="25" fill="#141414" text-anchor="middle" font-family='"Liberation Sans", sans-serif' font-weight="normal" >260.5</text>
<text x="429.5666666666666" y="983.6" font-size="25" fill="#141414" text-anchor="middle" font-family='"Liberation Sans", sans-serif' font-weight="normal" >261</text>
<text x="598.8" y="983.6" font-size="25" fill="#141414" text-anchor="middle" font-family='"Liberation Sans", sans-serif' font-weight="normal" >261.5</text>
<text x="768.0333333333333" y="983.6" font-size="25" fill="#141414" text-anchor="middle" font-family='"Liberation Sans", sans-serif' font-weight="normal" >262</text>
<text x="937.2666666666667" y="983.6" font-size="25" fill="#141414" text-anchor="middle" font-family='"Liberation Sans", sans-serif' font-weight="normal" >262.5</text>
<text x="1106.5" y="983.6" font-size="25" fill="#141414" text-anchor="middle" font-family='"Liberation Sans", sans-serif' font-weight="normal" >263</text>
<text x="598.5" y="1015.5" font-size="27.5" fill="#141414" text-anchor="middle" font-family='"Liberation Sans", sans-serif' font-weight="normal" >time (days)</text>
<defs>
<linearGradient id="plumeG" x1="0" y1="0" x2="0" y2="1"><stop offset="0" stop-color="#70d7fc"/><stop offset="0.25" stop-color="#64c4f0"/><stop offset="0.5" stop-color="#55a8da"/><stop offset="0.75" stop-color="#4590c6"/><stop offset="1" stop-color="#3a7db6"/></linearGradient>
<linearGradient id="bedG" x1="0" y1="0" x2="0.3" y2="1"><stop offset="0" stop-color="#c39463"/><stop offset="1" stop-color="#ba8a59"/></linearGradient>
</defs>
<polygon points="1231.1,407.8 1600.0,287.3 1927.4,177.7 1927.4,184.9 1600.0,294.5 1231.1,415.0" fill="#7b4a24"/>
<path d="M1231.1,357.7 C1261.8,347.9 1377.8,310.8 1415.0,299.2 C1452.2,287.6 1439.8,292.1 1454.0,288.0 C1468.2,283.9 1484.0,279.3 1500.0,274.5 C1516.0,269.7 1535.2,263.8 1550.0,259.0 C1564.8,254.2 1575.6,250.8 1588.5,246.0 C1601.4,241.2 1616.1,235.4 1627.5,230.5 C1638.9,225.6 1648.2,220.8 1656.7,216.5 C1665.2,212.2 1671.7,208.1 1678.2,204.5 C1684.7,200.9 1689.5,198.4 1695.7,194.8 C1701.9,191.2 1708.7,187.2 1715.2,183.2 C1721.7,179.2 1728.2,174.9 1734.7,170.8 C1741.2,166.7 1747.7,162.1 1754.2,158.5 C1760.7,154.9 1767.7,152.0 1773.7,149.5 C1779.7,147.0 1784.9,145.3 1790.0,143.5 C1795.1,141.7 1798.3,140.3 1804.3,138.4 C1810.3,136.5 1818.6,133.7 1825.8,132.0 C1833.0,130.3 1840.0,129.1 1847.2,128.3 C1854.4,127.5 1861.6,127.5 1868.7,127.0 C1875.8,126.5 1883.7,126.2 1890.1,125.4 C1896.5,124.6 1902.8,123.5 1907.3,122.2 C1911.8,121.0 1915.3,118.6 1916.9,117.9 L1927.4,177.7 L1600.0,287.3 L1231.1,407.8 Z" fill="url(#bedG)"/>
<path d="M1231.1,357.7 C1261.8,347.9 1377.8,310.8 1415.0,299.2 C1452.2,287.6 1439.8,292.1 1454.0,288.0 C1468.2,283.9 1484.0,279.3 1500.0,274.5 C1516.0,269.7 1535.2,263.8 1550.0,259.0 C1564.8,254.2 1575.6,250.8 1588.5,246.0 C1601.4,241.2 1616.1,235.4 1627.5,230.5 C1638.9,225.6 1648.2,220.8 1656.7,216.5 C1665.2,212.2 1671.7,208.1 1678.2,204.5 C1684.7,200.9 1689.5,198.4 1695.7,194.8 C1701.9,191.2 1708.7,187.2 1715.2,183.2 C1721.7,179.2 1728.2,174.9 1734.7,170.8 C1741.2,166.7 1747.7,162.1 1754.2,158.5 C1760.7,154.9 1767.7,152.0 1773.7,149.5 C1779.7,147.0 1784.9,145.3 1790.0,143.5 C1795.1,141.7 1798.3,140.3 1804.3,138.4 C1810.3,136.5 1818.6,133.7 1825.8,132.0 C1833.0,130.3 1840.0,129.1 1847.2,128.3 C1854.4,127.5 1861.6,127.5 1868.7,127.0 C1875.8,126.5 1883.7,126.2 1890.1,125.4 C1896.5,124.6 1902.8,123.5 1907.3,122.2 C1911.8,121.0 1915.3,118.6 1916.9,117.9" fill="none" stroke="#b17f4e" stroke-width="1.2"/>
<polyline points="1231.1,407.8 1600.0,287.3 1927.4,177.7" fill="none" stroke="#0c0c10" stroke-width="2.5"/>
<path d="M1230.7,94 L1636.3,94  C1635.2,95.8 1632.5,100.0 1629.4,104.6 C1626.3,109.2 1622.6,116.2 1617.7,121.5 C1612.8,126.8 1605.8,132.2 1600.0,136.5 C1594.2,140.8 1588.2,144.3 1583.0,147.5 C1577.8,150.7 1574.2,152.7 1569.0,155.5 C1563.8,158.3 1557.5,161.9 1552.0,164.5 C1546.5,167.1 1542.5,169.1 1535.9,170.8 C1529.3,172.5 1519.7,173.9 1512.5,174.6 C1505.3,175.3 1501.1,175.4 1493.0,175.0 C1484.9,174.6 1471.8,172.8 1463.7,172.2 C1455.6,171.6 1450.7,170.9 1444.2,171.2 C1437.7,171.5 1432.8,173.2 1424.7,174.2 C1416.6,175.2 1405.2,176.5 1395.5,177.1 C1385.8,177.7 1376.0,177.8 1366.2,177.5 C1356.5,177.2 1345.8,175.7 1337.0,175.1 C1328.2,174.5 1321.7,173.2 1313.6,174.2 C1305.5,175.2 1296.0,179.2 1288.2,181.0 C1280.4,182.8 1273.3,184.6 1266.8,184.9 C1260.3,185.2 1255.2,183.7 1249.2,183.0 C1243.2,182.3 1233.8,181.3 1230.7,181.0 Z" fill="url(#plumeG)"/>
<path d="M1636.3,94.0 C1635.2,95.8 1632.5,100.0 1629.4,104.6 C1626.3,109.2 1622.6,116.2 1617.7,121.5 C1612.8,126.8 1605.8,132.2 1600.0,136.5 C1594.2,140.8 1588.2,144.3 1583.0,147.5 C1577.8,150.7 1574.2,152.7 1569.0,155.5 C1563.8,158.3 1557.5,161.9 1552.0,164.5 C1546.5,167.1 1542.5,169.1 1535.9,170.8 C1529.3,172.5 1519.7,173.9 1512.5,174.6 C1505.3,175.3 1501.1,175.4 1493.0,175.0 C1484.9,174.6 1471.8,172.8 1463.7,172.2 C1455.6,171.6 1450.7,170.9 1444.2,171.2 C1437.7,171.5 1432.8,173.2 1424.7,174.2 C1416.6,175.2 1405.2,176.5 1395.5,177.1 C1385.8,177.7 1376.0,177.8 1366.2,177.5 C1356.5,177.2 1345.8,175.7 1337.0,175.1 C1328.2,174.5 1321.7,173.2 1313.6,174.2 C1305.5,175.2 1296.0,179.2 1288.2,181.0 C1280.4,182.8 1273.3,184.6 1266.8,184.9 C1260.3,185.2 1255.2,183.7 1249.2,183.0 C1243.2,182.3 1233.8,181.3 1230.7,181.0" fill="none" stroke="#3b7dd8" stroke-width="3.4"/>
<line x1="1230.7" y1="94" x2="1925.5" y2="94" stroke="#3b7dd8" stroke-width="3.6"/>
<path d="M1559.5,94 C1556,104 1551,110 1541.7,113 C1525,120 1500,135 1483,145.5 C1470,154 1455,166 1444,175 C1432,188 1422,205 1416,222 C1411,238 1410.5,250 1412.5,262 C1415,278 1421,292 1428,303 C1436,315 1444,324 1452,332" fill="none" stroke="#3b7dd8" stroke-width="2.6"/>
<line x1="1456.6" y1="96" x2="1456.6" y2="328" stroke="#111" stroke-width="1.9" stroke-dasharray="3.5 3.6"/>
<line x1="1456.6" y1="112" x2="1534.3" y2="112" stroke="#3b7dd8" stroke-width="3"/>
<polygon points="1541.5,112 1526.5,103.2 1530.1,112 1526.5,120.8" fill="#3b7dd8"/>
<line x1="1456.6" y1="229" x2="1425.2" y2="229" stroke="#3b7dd8" stroke-width="3"/>
<polygon points="1418,229 1433.0,220.2 1429.4,229 1433.0,237.8" fill="#3b7dd8"/>
<line x1="1456.6" y1="258.3" x2="1420.2" y2="258.3" stroke="#3b7dd8" stroke-width="3"/>
<polygon points="1413,258.3 1428.0,249.5 1424.4,258.3 1428.0,267.1" fill="#3b7dd8"/>
<line x1="1456.6" y1="287.7" x2="1427.2" y2="287.7" stroke="#3b7dd8" stroke-width="3"/>
<polygon points="1420,287.7 1435.0,278.9 1431.4,287.7 1435.0,296.5" fill="#3b7dd8"/>
<line x1="1624.6" y1="112.4" x2="1720" y2="112.4" stroke="#111" stroke-width="7.4"/>
<polygon points="1740.6,112.4 1703,97.6 1716.5,112.4 1703,128.4" fill="#111"/>
<line x1="1689.5" y1="233.5" x2="1662.0" y2="243.0" stroke="#111" stroke-width="3.8"/>
<polygon points="1637.5,251.5 1666.8,226.0 1662.0,243.0 1676.3,253.4" fill="#111"/>
<line x1="1568.0" y1="276.6" x2="1511.0" y2="293.0" stroke="#111" stroke-width="4"/>
<polygon points="1486.1,300.2 1517.1,277.7 1511.0,293.0 1524.3,302.7" fill="#111"/>
<circle cx="1797.4" cy="150.9" r="2.35" fill="#140c0c"/>
<circle cx="1802.7" cy="148.4" r="2.35" fill="#140c0c"/>
<circle cx="1808.1" cy="153.8" r="2.35" fill="#140c0c"/>
<circle cx="1817.7" cy="153.8" r="2.35" fill="#140c0c"/>
<circle cx="1802.7" cy="158.1" r="2.35" fill="#140c0c"/>
<circle cx="1819.9" cy="159.2" r="2.35" fill="#140c0c"/>
<circle cx="1798.4" cy="162.7" r="2.35" fill="#140c0c"/>
<circle cx="1812.4" cy="161.3" r="2.35" fill="#140c0c"/>
<circle cx="1823.1" cy="167.2" r="2.35" fill="#140c0c"/>
<circle cx="1803.3" cy="173.1" r="2.35" fill="#140c0c"/>
<circle cx="1813.5" cy="171.7" r="2.35" fill="#140c0c"/>
<circle cx="1824.2" cy="173.6" r="2.35" fill="#140c0c"/>
<circle cx="1829.5" cy="173.6" r="2.35" fill="#140c0c"/>
<circle cx="1810.2" cy="180.6" r="2.35" fill="#140c0c"/>
<circle cx="1816.7" cy="180.1" r="2.35" fill="#140c0c"/>
<circle cx="1800.6" cy="183.3" r="2.35" fill="#140c0c"/>
<circle cx="1819.9" cy="185.2" r="2.35" fill="#140c0c"/>
<circle cx="1808.1" cy="190.8" r="2.35" fill="#140c0c"/>
<circle cx="1815.6" cy="196.7" r="2.35" fill="#140c0c"/>
<circle cx="1827.9" cy="182.2" r="2.35" fill="#140c0c"/>
<circle cx="1830.1" cy="182.2" r="2.35" fill="#140c0c"/>
<circle cx="1828.5" cy="192.9" r="2.35" fill="#140c0c"/>
<circle cx="1833.8" cy="130.7" r="2.35" fill="#140c0c"/>
<circle cx="1839.7" cy="128.1" r="2.35" fill="#140c0c"/>
<circle cx="1845.1" cy="133.7" r="2.35" fill="#140c0c"/>
<circle cx="1854.5" cy="133.7" r="2.35" fill="#140c0c"/>
<circle cx="1839.7" cy="138.0" r="2.35" fill="#140c0c"/>
<circle cx="1856.7" cy="139.3" r="2.35" fill="#140c0c"/>
<circle cx="1835.2" cy="142.5" r="2.35" fill="#140c0c"/>
<circle cx="1849.2" cy="141.2" r="2.35" fill="#140c0c"/>
<circle cx="1859.9" cy="147.7" r="2.35" fill="#140c0c"/>
<circle cx="1839.7" cy="153.0" r="2.35" fill="#140c0c"/>
<circle cx="1850.2" cy="152.0" r="2.35" fill="#140c0c"/>
<circle cx="1861.0" cy="153.8" r="2.35" fill="#140c0c"/>
<circle cx="1866.0" cy="153.8" r="2.35" fill="#140c0c"/>
<circle cx="1847.0" cy="160.2" r="2.35" fill="#140c0c"/>
<circle cx="1853.5" cy="160.2" r="2.35" fill="#140c0c"/>
<circle cx="1837.4" cy="163.4" r="2.35" fill="#140c0c"/>
<circle cx="1856.7" cy="165.6" r="2.35" fill="#140c0c"/>
<circle cx="1864.9" cy="162.9" r="2.35" fill="#140c0c"/>
<circle cx="1867.1" cy="162.9" r="2.35" fill="#140c0c"/>
<circle cx="1844.6" cy="170.2" r="2.35" fill="#140c0c"/>
<circle cx="1852.4" cy="175.8" r="2.35" fill="#140c0c"/>
<circle cx="1864.9" cy="172.8" r="2.35" fill="#140c0c"/>
<circle cx="1879.9" cy="172.8" r="2.35" fill="#140c0c"/>
<circle cx="1837.1" cy="180.1" r="2.35" fill="#140c0c"/>
<circle cx="1842.4" cy="188.1" r="2.35" fill="#140c0c"/>
<circle cx="1842.9" cy="192.9" r="2.35" fill="#140c0c"/>
<path d="M1815.6,196.7 C1815.3,195.3 1814.8,191.8 1814.0,188.6 C1813.2,185.5 1812.2,181.0 1810.8,177.9 C1809.3,174.9 1807.2,171.9 1805.4,170.4 C1803.6,168.9 1802.0,168.6 1800.1,168.8 C1798.1,169.0 1795.8,169.6 1793.6,171.5 C1791.5,173.4 1789.3,177.0 1787.2,180.1 C1785.0,183.1 1783.1,186.7 1780.8,189.7 C1778.4,192.8 1775.9,195.9 1773.2,198.3 C1770.6,200.7 1766.1,203.2 1764.7,204.2" fill="none" stroke="#1a1010" stroke-width="2"/>
<polygon points="1751.3,206.0 1768.1,198.1 1767.3,204.7 1771.3,211.2" fill="#1a1010"/>
<path d="M1886.4,206.0 C1884.3,205.6 1877.4,204.8 1874.0,203.7 C1870.7,202.6 1868.2,201.2 1866.5,199.4 C1864.9,197.6 1864.4,195.1 1864.4,192.9 C1864.4,190.8 1866.9,188.4 1866.8,186.5 C1866.6,184.6 1865.1,182.6 1863.3,181.7 C1861.5,180.7 1858.5,180.9 1855.8,180.9 C1853.1,180.9 1848.7,181.6 1847.2,181.7" fill="none" stroke="#1a1010" stroke-width="2"/>
<polygon points="1839.9,166.7 1838.7,185.6 1845.4,182.0 1853.7,181.4" fill="#1a1010"/>
<path d="M1917.5,192.6 C1915.4,192.1 1908.6,190.9 1905.1,189.7 C1901.7,188.5 1898.4,187.2 1896.6,185.4 C1894.8,183.6 1894.3,181.3 1894.4,179.0 C1894.5,176.7 1897.5,173.4 1897.3,171.5 C1897.1,169.6 1895.3,168.4 1893.4,167.7 C1891.4,167.0 1888.3,167.1 1885.8,167.2 C1883.3,167.3 1879.6,168.1 1878.3,168.3" fill="none" stroke="#1a1010" stroke-width="2"/>
<polygon points="1871.4,153.0 1869.8,172.8 1876.4,169.3 1884.2,168.5" fill="#1a1010"/>
<text x="1254.0" y="89" font-size="18" fill="#111" text-anchor="start" font-family='"Liberation Sans", sans-serif' font-weight="bold" textLength="161" lengthAdjust="spacingAndGlyphs">Freshwater plume</text>
<text x="1642.7" y="85.1" font-size="21" fill="#111" text-anchor="start" font-family='"DejaVu Sans", "Liberation Sans", sans-serif' font-weight="normal" textLength="262" lengthAdjust="spacingAndGlyphs">Onshore front propagation</text>
<text x="1277.3" y="251.8" font-size="19.3" fill="#2222dd" text-anchor="start" font-family='"DejaVu Sans", "Liberation Sans", sans-serif' font-weight="normal" textLength="126.3" lengthAdjust="spacingAndGlyphs">Flow velocity</text>
<text transform="translate(1473,278) rotate(-19.8)" font-size="15.8" fill="#111" font-family='"DejaVu Sans", "Liberation Sans", sans-serif' textLength="228" lengthAdjust="spacingAndGlyphs">Offshore sediment transport</text>
<text transform="translate(1709.3,283.8) rotate(-18.6)" font-size="19.5" fill="#111" font-family='"DejaVu Sans", "Liberation Sans", sans-serif' textLength="239" lengthAdjust="spacingAndGlyphs">Nearshore resuspension</text>
<rect x="1297.3" y="514.8" width="294.4000000000001" height="281.0" fill="#fff"/>
<line x1="1425" y1="514.8" x2="1425" y2="795.8" stroke="#ececec" stroke-width="1"/>
<line x1="1552.9" y1="514.8" x2="1552.9" y2="795.8" stroke="#ececec" stroke-width="1"/>
<line x1="1297.3" y1="584.6" x2="1591.7" y2="584.6" stroke="#ececec" stroke-width="1"/>
<line x1="1297.3" y1="655.3" x2="1591.7" y2="655.3" stroke="#ececec" stroke-width="1"/>
<line x1="1297.3" y1="725.5" x2="1591.7" y2="725.5" stroke="#ececec" stroke-width="1"/>
<g clip-path="none">
<polyline points="1297.2,794.6 1301.2,788.6 1305.7,787.1 1316.3,787.1 1322.3,782.6 1326.8,776.5 1331.4,765.9 1337.4,738.7 1344.4,713.0 1352.5,735.7 1358.6,759.9 1363.1,776.5 1375.2,790.7 1388.8,791.6 1405.4,765.3 1416.0,708.5 1425.1,640.5 1437.1,690.4 1449.2,735.1 1474.9,730.3 1491.5,669.2 1508.2,572.5 1527.8,651.1 1545.9,726.6 1591.9,776.5" fill="none" stroke="#c4c4ff" stroke-width="2.8" stroke-linejoin="round" />
<polyline points="1297.2,794.6 1301.2,788.6 1305.7,787.1 1316.3,787.1 1322.3,783.2 1326.8,777.1 1331.4,766.5 1337.4,740.2 1344.4,716.1 1352.5,737.2 1358.6,760.5 1363.1,777.1 1375.2,791.6 1388.8,793.1 1405.4,770.5 1416.0,716.1 1425.1,652.6 1437.1,701.0 1449.2,747.8 1474.9,746.9 1491.5,669.2 1508.2,567.1 1527.8,645.1 1545.9,720.0 1591.9,773.5" fill="none" stroke="#4848f0" stroke-width="3.0" stroke-linejoin="round" />
<polyline points="1297.2,794.6 1301.2,788.6 1305.7,787.1 1316.3,787.1 1322.3,783.2 1326.8,777.1 1331.4,766.5 1337.4,740.2 1344.4,715.2 1352.5,737.2 1358.6,760.5 1363.1,777.1 1375.2,791.3 1388.8,792.5 1405.4,769.0 1416.0,714.6 1425.1,651.1 1437.1,699.5 1449.2,746.6 1474.9,745.4 1491.5,681.3 1508.2,610.3 1527.8,681.3 1545.9,746.3 1591.9,783.5" fill="none" stroke="#0a0aa8" stroke-width="3.0" stroke-linejoin="round" />
<polyline points="1297.2,794.6 1301.2,788.6 1305.7,787.1 1316.3,787.1 1322.3,782.6 1326.8,776.5 1331.4,765.9 1337.4,738.7 1344.4,712.1 1352.5,735.7 1358.6,759.9 1363.1,776.5 1375.2,790.7 1388.8,791.6 1405.4,765.9 1416.0,711.5 1425.1,648.7 1437.1,696.4 1449.2,741.8 1474.9,738.7 1491.5,675.3 1508.2,599.7 1527.8,675.3 1545.9,746.3 1591.9,783.5" fill="none" stroke="#080808" stroke-width="3.2" stroke-linejoin="round" />
</g>
<line x1="1425" y1="795.8" x2="1425" y2="791.8" stroke="#404040" stroke-width="1"/>
<line x1="1425" y1="514.8" x2="1425" y2="518.8" stroke="#404040" stroke-width="1"/>
<line x1="1552.9" y1="795.8" x2="1552.9" y2="791.8" stroke="#404040" stroke-width="1"/>
<line x1="1552.9" y1="514.8" x2="1552.9" y2="518.8" stroke="#404040" stroke-width="1"/>
<line x1="1297.3" y1="584.6" x2="1301.3" y2="584.6" stroke="#404040" stroke-width="1"/>
<line x1="1591.7" y1="584.6" x2="1587.7" y2="584.6" stroke="#404040" stroke-width="1"/>
<line x1="1297.3" y1="655.3" x2="1301.3" y2="655.3" stroke="#404040" stroke-width="1"/>
<line x1="1591.7" y1="655.3" x2="1587.7" y2="655.3" stroke="#404040" stroke-width="1"/>
<line x1="1297.3" y1="725.5" x2="1301.3" y2="725.5" stroke="#404040" stroke-width="1"/>
<line x1="1591.7" y1="725.5" x2="1587.7" y2="725.5" stroke="#404040" stroke-width="1"/>
<rect x="1297.3" y="514.8" width="294.4000000000001" height="281.0" fill="none" stroke="#404040" stroke-width="1.3"/>
<text x="1287" y="524.5999999999999" font-size="27.5" fill="#404040" text-anchor="end" font-family='"Liberation Sans", sans-serif' font-weight="normal" >4</text>
<text x="1287" y="594.4" font-size="27.5" fill="#404040" text-anchor="end" font-family='"Liberation Sans", sans-serif' font-weight="normal" >3</text>
<text x="1287" y="665.0999999999999" font-size="27.5" fill="#404040" text-anchor="end" font-family='"Liberation Sans", sans-serif' font-weight="normal" >2</text>
<text x="1287" y="735.3" font-size="27.5" fill="#404040" text-anchor="end" font-family='"Liberation Sans", sans-serif' font-weight="normal" >1</text>
<text x="1287" y="805.5999999999999" font-size="27.5" fill="#404040" text-anchor="end" font-family='"Liberation Sans", sans-serif' font-weight="normal" >0</text>
<text x="1297.3" y="833" font-size="27.5" fill="#404040" text-anchor="middle" font-family='"Liberation Sans", sans-serif' font-weight="normal" >0</text>
<text x="1425" y="833" font-size="27.5" fill="#404040" text-anchor="middle" font-family='"Liberation Sans", sans-serif' font-weight="normal" >200</text>
<text x="1552.9" y="833" font-size="27.5" fill="#404040" text-anchor="middle" font-family='"Liberation Sans", sans-serif' font-weight="normal" >400</text>
<text x="1443.5" y="869" font-size="31.8" fill="#404040" text-anchor="middle" font-family='"Liberation Sans", sans-serif' font-weight="normal" >Size class (um)</text>
<text transform="translate(1258,655.5) rotate(-90)" font-size="31.8" fill="#404040" text-anchor="middle" font-family='"Liberation Sans", sans-serif'>Volume (uL/L)</text>
<text x="1347.7" y="495" font-size="34.5" fill="#ee0a0a" stroke="#ee0a0a" stroke-width="0.35" textLength="194.5" lengthAdjust="spacing">During front</text>
<rect x="1659.6" y="513.8" width="285.20000000000005" height="273.4000000000001" fill="#fff"/>
<line x1="1782.8" y1="513.8" x2="1782.8" y2="787.2" stroke="#ececec" stroke-width="1"/>
<line x1="1906.1" y1="513.8" x2="1906.1" y2="787.2" stroke="#ececec" stroke-width="1"/>
<line x1="1659.6" y1="654.1" x2="1944.8" y2="654.1" stroke="#ececec" stroke-width="1"/>
<polyline points="1659.8,785.6 1664.3,781.3 1674.9,779.2 1684.0,773.5 1691.5,759.9 1699.1,735.7 1705.1,717.6 1712.7,698.8 1723.3,700.1 1733.8,711.5 1747.4,699.5 1764.1,636.0 1782.8,518.7 1806.4,585.5 1832.0,587.6 1863.8,512.7 1900.0,657.1 1944.8,743.3" fill="none" stroke="#c6c6ff" stroke-width="2.7" stroke-linejoin="round" />
<polyline points="1659.8,785.6 1664.3,781.6 1674.9,779.8 1684.0,775.0 1691.5,762.9 1699.1,741.8 1705.1,728.2 1712.7,716.1 1723.3,725.1 1735.3,738.7 1747.4,731.2 1764.1,681.3 1782.8,578.0 1806.4,641.4 1832.0,634.5 1863.8,538.7 1900.0,654.1 1944.8,741.8" fill="none" stroke="#7c7cf4" stroke-width="2.7" stroke-linejoin="round" />
<polyline points="1659.8,785.6 1664.3,782.0 1674.9,780.4 1684.0,776.5 1691.5,765.9 1699.1,749.3 1705.1,738.1 1712.7,732.7 1723.3,747.8 1735.3,761.4 1747.4,759.3 1764.1,717.6 1782.8,639.6 1806.4,697.3 1832.0,694.0 1863.8,613.3 1900.0,707.9 1944.8,760.5" fill="none" stroke="#0c0cb0" stroke-width="2.9" stroke-linejoin="round" />
<polyline points="1659.8,785.6 1664.3,782.6 1674.9,781.0 1684.0,778.0 1691.5,769.0 1699.1,753.8 1705.1,745.4 1712.7,746.3 1723.3,762.9 1735.3,775.0 1747.4,774.4 1764.1,747.8 1782.8,679.8 1806.4,731.2 1832.0,729.7 1863.8,663.2 1900.0,732.7 1944.8,762.9" fill="none" stroke="#080808" stroke-width="2.9" stroke-linejoin="round" />
<line x1="1782.8" y1="787.2" x2="1782.8" y2="783.2" stroke="#404040" stroke-width="1"/>
<line x1="1782.8" y1="513.8" x2="1782.8" y2="517.8" stroke="#404040" stroke-width="1"/>
<line x1="1906.1" y1="787.2" x2="1906.1" y2="783.2" stroke="#404040" stroke-width="1"/>
<line x1="1906.1" y1="513.8" x2="1906.1" y2="517.8" stroke="#404040" stroke-width="1"/>
<line x1="1659.6" y1="521.2" x2="1663.6" y2="521.2" stroke="#404040" stroke-width="1"/>
<line x1="1944.8" y1="521.2" x2="1940.8" y2="521.2" stroke="#404040" stroke-width="1"/>
<line x1="1659.6" y1="654.1" x2="1663.6" y2="654.1" stroke="#404040" stroke-width="1"/>
<line x1="1944.8" y1="654.1" x2="1940.8" y2="654.1" stroke="#404040" stroke-width="1"/>
<rect x="1659.6" y="513.8" width="285.20000000000005" height="273.4000000000001" fill="none" stroke="#404040" stroke-width="1.3"/>
<text x="1649" y="530.2" font-size="27.5" fill="#404040" text-anchor="end" font-family='"Liberation Sans", sans-serif' font-weight="normal" >10</text>
<text x="1649" y="663.1" font-size="27.5" fill="#404040" text-anchor="end" font-family='"Liberation Sans", sans-serif' font-weight="normal" >5</text>
<text x="1649" y="796.2" font-size="27.5" fill="#404040" text-anchor="end" font-family='"Liberation Sans", sans-serif' font-weight="normal" >0</text>
<text x="1659.6" y="824.5" font-size="27.5" fill="#404040" text-anchor="middle" font-family='"Liberation Sans", sans-serif' font-weight="normal" >0</text>
<text x="1782.8" y="824.5" font-size="27.5" fill="#404040" text-anchor="middle" font-family='"Liberation Sans", sans-serif' font-weight="normal" >200</text>
<text x="1906.1" y="824.5" font-size="27.5" fill="#404040" text-anchor="middle" font-family='"Liberation Sans", sans-serif' font-weight="normal" >400</text>
<text x="1802.5" y="867" font-size="32.3" fill="#404040" text-anchor="middle" font-family='"Liberation Sans", sans-serif' font-weight="normal" >Size class (um)</text>
<text x="1666.6" y="494.4" font-size="34.5" fill="#0ea64e" stroke="#0ea64e" stroke-width="0.35" textLength="276.5" lengthAdjust="spacing">During SSC peak</text>
</svg>
</body></html>
